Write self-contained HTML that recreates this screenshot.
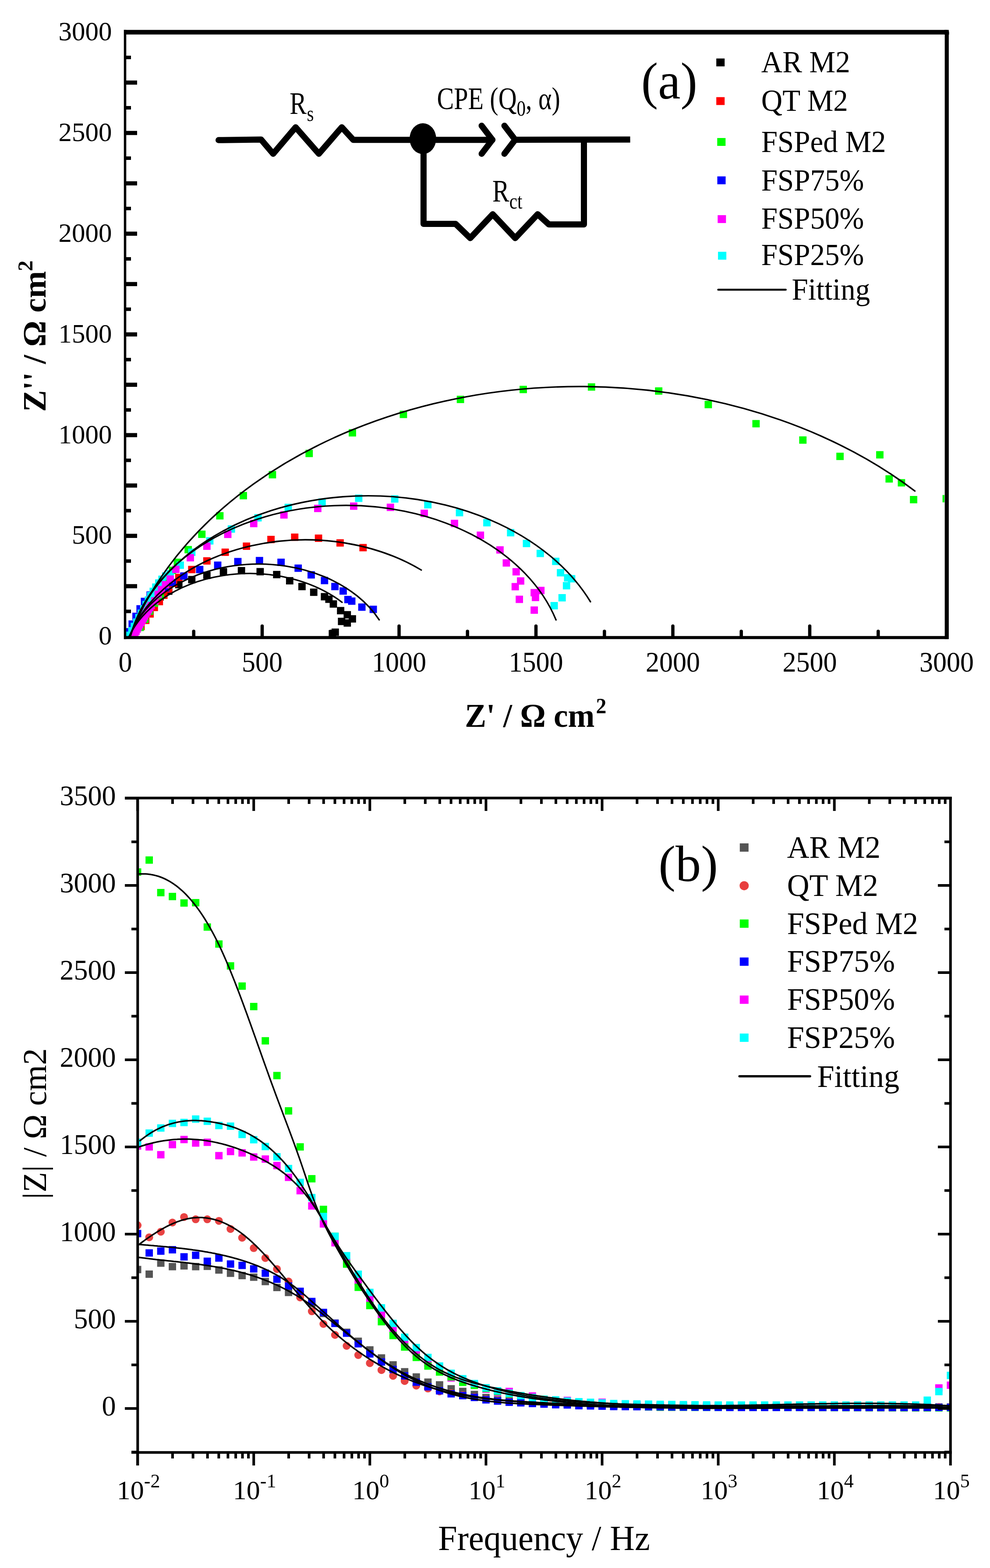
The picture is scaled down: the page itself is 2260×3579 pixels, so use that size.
<!DOCTYPE html>
<html><head><meta charset="utf-8"><style>html,body{margin:0;padding:0;background:#fff;}svg{display:block;}</style></head>
<body><svg width="2260" height="3579" viewBox="0 0 2260 3579" font-family="'Liberation Serif', 'Times New Roman', serif">
<rect width="2260" height="3579" fill="#fff"/>
<defs><clipPath id="clipA"><rect x="288" y="78" width="1868" height="1374"/></clipPath><clipPath id="clipB"><rect x="317" y="1824" width="1850" height="1488"/></clipPath></defs>
<g clip-path="url(#clipA)">
<g fill="#000000"><rect x="291.6" y="1441.6" width="16.8" height="16.8"/><rect x="298.7" y="1429.8" width="16.8" height="16.8"/><rect x="305.7" y="1418.1" width="16.8" height="16.8"/><rect x="313.8" y="1407.0" width="16.8" height="16.8"/><rect x="322.0" y="1396.0" width="16.8" height="16.8"/><rect x="330.3" y="1385.0" width="16.8" height="16.8"/><rect x="338.5" y="1374.1" width="16.8" height="16.8"/><rect x="347.0" y="1363.3" width="16.8" height="16.8"/><rect x="681.0" y="1330.4" width="16.8" height="16.8"/><rect x="707.8" y="1343.4" width="16.8" height="16.8"/><rect x="732.4" y="1353.6" width="16.8" height="16.8"/><rect x="742.5" y="1359.4" width="16.8" height="16.8"/><rect x="752.6" y="1370.2" width="16.8" height="16.8"/><rect x="769.2" y="1385.4" width="16.8" height="16.8"/><rect x="784.4" y="1394.8" width="16.8" height="16.8"/><rect x="796.0" y="1404.2" width="16.8" height="16.8"/><rect x="771.4" y="1410.0" width="16.8" height="16.8"/><rect x="784.4" y="1413.6" width="16.8" height="16.8"/><rect x="756.9" y="1434.6" width="16.8" height="16.8"/><rect x="750.4" y="1438.2" width="16.8" height="16.8"/><rect x="652.9" y="1317.2" width="16.8" height="16.8"/><rect x="623.3" y="1303.1" width="16.8" height="16.8"/><rect x="585.5" y="1296.5" width="16.8" height="16.8"/><rect x="542.8" y="1294.2" width="16.8" height="16.8"/><rect x="501.7" y="1296.5" width="16.8" height="16.8"/><rect x="463.9" y="1304.7" width="16.8" height="16.8"/><rect x="429.4" y="1314.6" width="16.8" height="16.8"/><rect x="399.8" y="1326.1" width="16.8" height="16.8"/><rect x="376.8" y="1340.9" width="16.8" height="16.8"/><rect x="357.1" y="1354.0" width="16.8" height="16.8"/></g>
<g fill="#ff0000"><rect x="313.6" y="1421.6" width="16.8" height="16.8"/><rect x="324.3" y="1407.6" width="16.8" height="16.8"/><rect x="334.2" y="1392.9" width="16.8" height="16.8"/><rect x="343.9" y="1378.1" width="16.8" height="16.8"/><rect x="355.4" y="1364.7" width="16.8" height="16.8"/><rect x="365.7" y="1350.3" width="16.8" height="16.8"/><rect x="376.5" y="1336.3" width="16.8" height="16.8"/><rect x="387.9" y="1322.8" width="16.8" height="16.8"/><rect x="399.8" y="1309.7" width="16.8" height="16.8"/><rect x="429.4" y="1291.6" width="16.8" height="16.8"/><rect x="463.9" y="1271.9" width="16.8" height="16.8"/><rect x="505.7" y="1252.1" width="16.8" height="16.8"/><rect x="554.3" y="1238.3" width="16.8" height="16.8"/><rect x="610.2" y="1223.0" width="16.8" height="16.8"/><rect x="664.4" y="1217.8" width="16.8" height="16.8"/><rect x="718.7" y="1220.1" width="16.8" height="16.8"/><rect x="768.0" y="1230.8" width="16.8" height="16.8"/><rect x="820.4" y="1241.6" width="16.8" height="16.8"/></g>
<g fill="#00ff00"><rect x="311.6" y="1423.6" width="16.8" height="16.8"/><rect x="322.5" y="1405.1" width="16.8" height="16.8"/><rect x="332.9" y="1386.4" width="16.8" height="16.8"/><rect x="344.5" y="1368.3" width="16.8" height="16.8"/><rect x="357.7" y="1351.5" width="16.8" height="16.8"/><rect x="366.1" y="1331.8" width="16.8" height="16.8"/><rect x="375.3" y="1312.4" width="16.8" height="16.8"/><rect x="385.3" y="1293.4" width="16.8" height="16.8"/><rect x="396.5" y="1275.1" width="16.8" height="16.8"/><rect x="421.2" y="1246.2" width="16.8" height="16.8"/><rect x="452.4" y="1211.1" width="16.8" height="16.8"/><rect x="493.5" y="1168.9" width="16.8" height="16.8"/><rect x="547.1" y="1122.9" width="16.8" height="16.8"/><rect x="613.5" y="1075.1" width="16.8" height="16.8"/><rect x="697.4" y="1026.6" width="16.8" height="16.8"/><rect x="796.1" y="979.5" width="16.8" height="16.8"/><rect x="912.5" y="937.5" width="16.8" height="16.8"/><rect x="1042.7" y="903.3" width="16.8" height="16.8"/><rect x="1186.1" y="880.6" width="16.8" height="16.8"/><rect x="1341.9" y="874.9" width="16.8" height="16.8"/><rect x="1495.3" y="884.1" width="16.8" height="16.8"/><rect x="1608.5" y="915.0" width="16.8" height="16.8"/><rect x="1717.5" y="958.7" width="16.8" height="16.8"/><rect x="1824.4" y="996.0" width="16.8" height="16.8"/><rect x="1909.2" y="1033.3" width="16.8" height="16.8"/><rect x="2000.1" y="1029.7" width="16.8" height="16.8"/><rect x="2021.4" y="1084.7" width="16.8" height="16.8"/><rect x="2049.5" y="1093.6" width="16.8" height="16.8"/><rect x="2077.2" y="1132.0" width="16.8" height="16.8"/><rect x="2151.6" y="1129.8" width="16.8" height="16.8"/></g>
<g fill="#0000ff"><rect x="284.6" y="1433.6" width="16.8" height="16.8"/><rect x="293.4" y="1416.1" width="16.8" height="16.8"/><rect x="302.1" y="1398.5" width="16.8" height="16.8"/><rect x="311.4" y="1381.3" width="16.8" height="16.8"/><rect x="321.4" y="1364.4" width="16.8" height="16.8"/><rect x="334.4" y="1349.8" width="16.8" height="16.8"/><rect x="351.5" y="1340.6" width="16.8" height="16.8"/><rect x="369.7" y="1333.5" width="16.8" height="16.8"/><rect x="385.0" y="1321.2" width="16.8" height="16.8"/><rect x="411.3" y="1306.4" width="16.8" height="16.8"/><rect x="447.5" y="1291.6" width="16.8" height="16.8"/><rect x="488.6" y="1281.7" width="16.8" height="16.8"/><rect x="534.6" y="1273.5" width="16.8" height="16.8"/><rect x="583.9" y="1271.2" width="16.8" height="16.8"/><rect x="633.2" y="1275.1" width="16.8" height="16.8"/><rect x="672.3" y="1288.5" width="16.8" height="16.8"/><rect x="702.0" y="1303.7" width="16.8" height="16.8"/><rect x="732.4" y="1316.7" width="16.8" height="16.8"/><rect x="756.2" y="1330.4" width="16.8" height="16.8"/><rect x="775.0" y="1340.6" width="16.8" height="16.8"/><rect x="785.9" y="1360.1" width="16.8" height="16.8"/><rect x="794.6" y="1363.7" width="16.8" height="16.8"/><rect x="817.7" y="1377.4" width="16.8" height="16.8"/><rect x="843.7" y="1382.5" width="16.8" height="16.8"/></g>
<g fill="#00ffff"><rect x="287.6" y="1441.6" width="16.8" height="16.8"/><rect x="292.7" y="1431.4" width="16.8" height="16.8"/><rect x="298.3" y="1421.5" width="16.8" height="16.8"/><rect x="303.7" y="1411.5" width="16.8" height="16.8"/><rect x="308.8" y="1401.3" width="16.8" height="16.8"/><rect x="314.2" y="1391.3" width="16.8" height="16.8"/><rect x="319.7" y="1381.4" width="16.8" height="16.8"/><rect x="325.2" y="1371.4" width="16.8" height="16.8"/><rect x="330.3" y="1361.2" width="16.8" height="16.8"/><rect x="335.7" y="1351.2" width="16.8" height="16.8"/><rect x="341.4" y="1341.4" width="16.8" height="16.8"/><rect x="347.3" y="1331.7" width="16.8" height="16.8"/><rect x="354.0" y="1322.4" width="16.8" height="16.8"/><rect x="361.4" y="1313.8" width="16.8" height="16.8"/><rect x="369.9" y="1306.5" width="16.8" height="16.8"/><rect x="380.1" y="1301.4" width="16.8" height="16.8"/><rect x="403.1" y="1281.7" width="16.8" height="16.8"/><rect x="429.4" y="1252.1" width="16.8" height="16.8"/><rect x="470.5" y="1226.1" width="16.8" height="16.8"/><rect x="519.8" y="1199.1" width="16.8" height="16.8"/><rect x="580.6" y="1173.5" width="16.8" height="16.8"/><rect x="649.6" y="1149.8" width="16.8" height="16.8"/><rect x="726.9" y="1137.5" width="16.8" height="16.8"/><rect x="810.5" y="1128.9" width="16.8" height="16.8"/><rect x="892.7" y="1130.5" width="16.8" height="16.8"/><rect x="968.3" y="1143.6" width="16.8" height="16.8"/><rect x="1040.6" y="1161.7" width="16.8" height="16.8"/><rect x="1103.1" y="1184.7" width="16.8" height="16.8"/><rect x="1157.3" y="1207.5" width="16.8" height="16.8"/><rect x="1193.5" y="1232.1" width="16.8" height="16.8"/><rect x="1224.9" y="1254.8" width="16.8" height="16.8"/><rect x="1260.3" y="1272.9" width="16.8" height="16.8"/><rect x="1271.2" y="1298.9" width="16.8" height="16.8"/><rect x="1287.5" y="1310.5" width="16.8" height="16.8"/><rect x="1296.5" y="1312.6" width="16.8" height="16.8"/><rect x="1284.9" y="1328.5" width="16.8" height="16.8"/><rect x="1274.8" y="1356.0" width="16.8" height="16.8"/><rect x="1256.7" y="1374.1" width="16.8" height="16.8"/></g>
<g fill="#ff00ff"><rect x="296.6" y="1442.6" width="16.8" height="16.8"/><rect x="299.4" y="1437.6" width="16.8" height="16.8"/><rect x="302.1" y="1432.6" width="16.8" height="16.8"/><rect x="304.6" y="1427.5" width="16.8" height="16.8"/><rect x="307.2" y="1422.4" width="16.8" height="16.8"/><rect x="310.0" y="1417.5" width="16.8" height="16.8"/><rect x="312.9" y="1412.5" width="16.8" height="16.8"/><rect x="315.9" y="1407.7" width="16.8" height="16.8"/><rect x="318.7" y="1402.8" width="16.8" height="16.8"/><rect x="321.5" y="1397.8" width="16.8" height="16.8"/><rect x="324.5" y="1392.9" width="16.8" height="16.8"/><rect x="327.5" y="1388.1" width="16.8" height="16.8"/><rect x="330.6" y="1383.3" width="16.8" height="16.8"/><rect x="333.6" y="1378.4" width="16.8" height="16.8"/><rect x="336.6" y="1373.6" width="16.8" height="16.8"/><rect x="345.2" y="1363.1" width="16.8" height="16.8"/><rect x="352.6" y="1348.3" width="16.8" height="16.8"/><rect x="360.0" y="1337.3" width="16.8" height="16.8"/><rect x="369.2" y="1326.2" width="16.8" height="16.8"/><rect x="380.2" y="1313.4" width="16.8" height="16.8"/><rect x="393.1" y="1291.3" width="16.8" height="16.8"/><rect x="426.1" y="1264.6" width="16.8" height="16.8"/><rect x="463.9" y="1238.3" width="16.8" height="16.8"/><rect x="511.6" y="1211.3" width="16.8" height="16.8"/><rect x="570.8" y="1186.6" width="16.8" height="16.8"/><rect x="639.8" y="1166.9" width="16.8" height="16.8"/><rect x="717.0" y="1152.1" width="16.8" height="16.8"/><rect x="799.0" y="1146.9" width="16.8" height="16.8"/><rect x="882.8" y="1149.6" width="16.8" height="16.8"/><rect x="960.1" y="1163.4" width="16.8" height="16.8"/><rect x="1029.1" y="1186.4" width="16.8" height="16.8"/><rect x="1088.3" y="1213.3" width="16.8" height="16.8"/><rect x="1133.0" y="1246.8" width="16.8" height="16.8"/><rect x="1147.5" y="1276.5" width="16.8" height="16.8"/><rect x="1169.9" y="1296.7" width="16.8" height="16.8"/><rect x="1180.1" y="1317.7" width="16.8" height="16.8"/><rect x="1167.8" y="1330.7" width="16.8" height="16.8"/><rect x="1226.3" y="1339.4" width="16.8" height="16.8"/><rect x="1211.2" y="1344.4" width="16.8" height="16.8"/><rect x="1214.0" y="1355.3" width="16.8" height="16.8"/><rect x="1177.2" y="1359.6" width="16.8" height="16.8"/><rect x="1211.2" y="1384.2" width="16.8" height="16.8"/></g>
<g fill="none" stroke="#000" stroke-width="3.4" stroke-linecap="round">
<path d="M294.5,1453.0 A292.3,215.0 0 0 1 780.9,1374.8"/>
<path d="M295.5,1453.0 A305.5,224.7 0 0 1 865.6,1414.8"/>
<path d="M295.4,1453.0 A419.3,308.5 0 0 1 961.7,1301.1"/>
<path d="M297.7,1453.0 A501.1,368.7 0 0 1 1269.3,1415.0"/>
<path d="M297.1,1453.0 A556.2,409.2 0 0 1 1347.9,1373.5"/>
<path d="M296.5,1453.0 A1066.6,784.6 0 0 1 2088.6,1120.8"/>
</g></g>
<g clip-path="url(#clipB)">
<g fill="#555555"><rect x="305.7" y="2889.4" width="16.8" height="16.8"/><rect x="332.2" y="2899.9" width="16.8" height="16.8"/><rect x="358.7" y="2874.7" width="16.8" height="16.8"/><rect x="385.2" y="2882.7" width="16.8" height="16.8"/><rect x="411.7" y="2881.0" width="16.8" height="16.8"/><rect x="438.3" y="2882.7" width="16.8" height="16.8"/><rect x="464.8" y="2882.0" width="16.8" height="16.8"/><rect x="491.3" y="2890.4" width="16.8" height="16.8"/><rect x="517.8" y="2897.8" width="16.8" height="16.8"/><rect x="544.3" y="2903.1" width="16.8" height="16.8"/><rect x="570.8" y="2906.8" width="16.8" height="16.8"/><rect x="597.3" y="2916.7" width="16.8" height="16.8"/><rect x="623.8" y="2930.3" width="16.8" height="16.8"/><rect x="650.3" y="2941.6" width="16.8" height="16.8"/><rect x="676.8" y="2946.6" width="16.8" height="16.8"/><rect x="703.4" y="2966.6" width="16.8" height="16.8"/><rect x="729.9" y="2989.6" width="16.8" height="16.8"/><rect x="756.4" y="3011.6" width="16.8" height="16.8"/><rect x="782.9" y="3032.6" width="16.8" height="16.8"/><rect x="809.4" y="3053.1" width="16.8" height="16.8"/><rect x="835.9" y="3072.8" width="16.8" height="16.8"/><rect x="862.4" y="3091.2" width="16.8" height="16.8"/><rect x="888.9" y="3107.0" width="16.8" height="16.8"/><rect x="915.4" y="3122.7" width="16.8" height="16.8"/><rect x="941.9" y="3134.6" width="16.8" height="16.8"/><rect x="968.5" y="3146.4" width="16.8" height="16.8"/><rect x="995.0" y="3152.6" width="16.8" height="16.8"/><rect x="1021.5" y="3161.6" width="16.8" height="16.8"/><rect x="1048.0" y="3167.6" width="16.8" height="16.8"/><rect x="1074.5" y="3174.6" width="16.8" height="16.8"/><rect x="1101.0" y="3181.6" width="16.8" height="16.8"/><rect x="1127.5" y="3186.6" width="16.8" height="16.8"/><rect x="1154.0" y="3189.6" width="16.8" height="16.8"/><rect x="1180.5" y="3191.6" width="16.8" height="16.8"/><rect x="1207.0" y="3193.1" width="16.8" height="16.8"/><rect x="1233.5" y="3194.6" width="16.8" height="16.8"/><rect x="1260.1" y="3196.1" width="16.8" height="16.8"/><rect x="1286.6" y="3196.6" width="16.8" height="16.8"/><rect x="1313.1" y="3198.1" width="16.8" height="16.8"/><rect x="1339.6" y="3198.6" width="16.8" height="16.8"/><rect x="1366.1" y="3199.2" width="16.8" height="16.8"/><rect x="1392.6" y="3200.0" width="16.8" height="16.8"/><rect x="1419.1" y="3200.3" width="16.8" height="16.8"/><rect x="1445.6" y="3200.6" width="16.8" height="16.8"/><rect x="1472.1" y="3200.9" width="16.8" height="16.8"/><rect x="1498.7" y="3201.2" width="16.8" height="16.8"/><rect x="1525.2" y="3201.4" width="16.8" height="16.8"/><rect x="1551.7" y="3201.7" width="16.8" height="16.8"/><rect x="1578.2" y="3202.0" width="16.8" height="16.8"/><rect x="1604.7" y="3202.3" width="16.8" height="16.8"/><rect x="1631.2" y="3202.6" width="16.8" height="16.8"/><rect x="1657.7" y="3203.1" width="16.8" height="16.8"/><rect x="1684.2" y="3203.1" width="16.8" height="16.8"/><rect x="1710.7" y="3203.1" width="16.8" height="16.8"/><rect x="1737.2" y="3203.1" width="16.8" height="16.8"/><rect x="1763.8" y="3203.1" width="16.8" height="16.8"/><rect x="1790.3" y="3203.1" width="16.8" height="16.8"/><rect x="1816.8" y="3203.1" width="16.8" height="16.8"/><rect x="1843.3" y="3203.1" width="16.8" height="16.8"/><rect x="1869.8" y="3203.1" width="16.8" height="16.8"/><rect x="1896.3" y="3203.1" width="16.8" height="16.8"/><rect x="1922.8" y="3203.1" width="16.8" height="16.8"/><rect x="1949.3" y="3203.1" width="16.8" height="16.8"/><rect x="1975.8" y="3203.1" width="16.8" height="16.8"/><rect x="2002.3" y="3203.1" width="16.8" height="16.8"/><rect x="2028.8" y="3203.1" width="16.8" height="16.8"/><rect x="2055.4" y="3203.1" width="16.8" height="16.8"/><rect x="2081.9" y="3203.1" width="16.8" height="16.8"/><rect x="2108.4" y="3203.1" width="16.8" height="16.8"/><rect x="2134.9" y="3203.1" width="16.8" height="16.8"/><rect x="2161.4" y="3203.1" width="16.8" height="16.8"/></g>
<g fill="#e84242"><circle cx="314.1" cy="2796.8" r="9"/><circle cx="340.6" cy="2824.2" r="9"/><circle cx="367.1" cy="2811.5" r="9"/><circle cx="393.6" cy="2790.5" r="9"/><circle cx="420.1" cy="2777.9" r="9"/><circle cx="446.7" cy="2783.1" r="9"/><circle cx="473.2" cy="2783.1" r="9"/><circle cx="499.7" cy="2786.7" r="9"/><circle cx="526.2" cy="2805.2" r="9"/><circle cx="552.7" cy="2825.2" r="9"/><circle cx="579.2" cy="2848.8" r="9"/><circle cx="605.7" cy="2871.4" r="9"/><circle cx="632.2" cy="2896.7" r="9"/><circle cx="658.7" cy="2925.0" r="9"/><circle cx="685.2" cy="2961.5" r="9"/><circle cx="711.8" cy="2993.1" r="9"/><circle cx="738.3" cy="3022.0" r="9"/><circle cx="764.8" cy="3047.0" r="9"/><circle cx="791.3" cy="3072.0" r="9"/><circle cx="817.8" cy="3093.0" r="9"/><circle cx="844.3" cy="3111.4" r="9"/><circle cx="870.8" cy="3127.2" r="9"/><circle cx="897.3" cy="3140.4" r="9"/><circle cx="923.8" cy="3152.2" r="9"/><circle cx="950.3" cy="3162.7" r="9"/><circle cx="976.9" cy="3169.3" r="9"/><circle cx="1003.4" cy="3175.9" r="9"/><circle cx="1029.9" cy="3180.0" r="9"/><circle cx="1056.4" cy="3184.6" r="9"/><circle cx="1082.9" cy="3188.7" r="9"/><circle cx="1109.4" cy="3194.0" r="9"/><circle cx="1135.9" cy="3197.0" r="9"/><circle cx="1162.4" cy="3199.7" r="9"/><circle cx="1188.9" cy="3201.0" r="9"/><circle cx="1215.4" cy="3202.5" r="9"/><circle cx="1242.0" cy="3203.9" r="9"/><circle cx="1268.5" cy="3205.3" r="9"/><circle cx="1295.0" cy="3205.8" r="9"/><circle cx="1321.5" cy="3207.5" r="9"/><circle cx="1348.0" cy="3208.0" r="9"/><circle cx="1374.5" cy="3208.6" r="9"/><circle cx="1401.0" cy="3209.4" r="9"/><circle cx="1427.5" cy="3209.6" r="9"/><circle cx="1454.0" cy="3209.8" r="9"/><circle cx="1480.5" cy="3210.0" r="9"/><circle cx="1507.1" cy="3210.2" r="9"/><circle cx="1533.6" cy="3210.5" r="9"/><circle cx="1560.1" cy="3210.7" r="9"/><circle cx="1586.6" cy="3210.9" r="9"/><circle cx="1613.1" cy="3211.1" r="9"/><circle cx="1639.6" cy="3211.3" r="9"/><circle cx="1666.1" cy="3211.5" r="9"/><circle cx="1692.6" cy="3211.5" r="9"/><circle cx="1719.1" cy="3211.5" r="9"/><circle cx="1745.6" cy="3211.5" r="9"/><circle cx="1772.2" cy="3211.5" r="9"/><circle cx="1798.7" cy="3211.5" r="9"/><circle cx="1825.2" cy="3211.5" r="9"/><circle cx="1851.7" cy="3211.5" r="9"/><circle cx="1878.2" cy="3211.5" r="9"/><circle cx="1904.7" cy="3211.5" r="9"/><circle cx="1931.2" cy="3211.5" r="9"/><circle cx="1957.7" cy="3211.5" r="9"/><circle cx="1984.2" cy="3211.5" r="9"/><circle cx="2010.7" cy="3211.5" r="9"/><circle cx="2037.2" cy="3211.5" r="9"/><circle cx="2063.8" cy="3211.5" r="9"/><circle cx="2090.3" cy="3211.5" r="9"/><circle cx="2116.8" cy="3211.5" r="9"/><circle cx="2143.3" cy="3211.5" r="9"/><circle cx="2169.8" cy="3211.5" r="9"/></g>
<g fill="#ff00ff"><rect x="305.7" y="2607.3" width="16.8" height="16.8"/><rect x="332.2" y="2609.4" width="16.8" height="16.8"/><rect x="358.7" y="2627.3" width="16.8" height="16.8"/><rect x="385.2" y="2604.2" width="16.8" height="16.8"/><rect x="411.7" y="2592.6" width="16.8" height="16.8"/><rect x="438.3" y="2600.6" width="16.8" height="16.8"/><rect x="464.8" y="2598.9" width="16.8" height="16.8"/><rect x="491.3" y="2629.4" width="16.8" height="16.8"/><rect x="517.8" y="2619.9" width="16.8" height="16.8"/><rect x="544.3" y="2623.1" width="16.8" height="16.8"/><rect x="570.8" y="2632.5" width="16.8" height="16.8"/><rect x="597.3" y="2637.2" width="16.8" height="16.8"/><rect x="623.8" y="2652.0" width="16.8" height="16.8"/><rect x="650.3" y="2678.9" width="16.8" height="16.8"/><rect x="676.8" y="2709.4" width="16.8" height="16.8"/><rect x="703.4" y="2744.1" width="16.8" height="16.8"/><rect x="729.9" y="2785.2" width="16.8" height="16.8"/><rect x="756.4" y="2828.3" width="16.8" height="16.8"/><rect x="782.9" y="2872.5" width="16.8" height="16.8"/><rect x="809.4" y="2916.7" width="16.8" height="16.8"/><rect x="835.9" y="2956.6" width="16.8" height="16.8"/><rect x="862.4" y="2993.6" width="16.8" height="16.8"/><rect x="888.9" y="3026.6" width="16.8" height="16.8"/><rect x="915.4" y="3055.6" width="16.8" height="16.8"/><rect x="941.9" y="3081.6" width="16.8" height="16.8"/><rect x="968.5" y="3102.6" width="16.8" height="16.8"/><rect x="995.0" y="3118.6" width="16.8" height="16.8"/><rect x="1021.5" y="3136.6" width="16.8" height="16.8"/><rect x="1048.0" y="3141.6" width="16.8" height="16.8"/><rect x="1074.5" y="3152.6" width="16.8" height="16.8"/><rect x="1101.0" y="3162.3" width="16.8" height="16.8"/><rect x="1127.5" y="3169.2" width="16.8" height="16.8"/><rect x="1154.0" y="3167.6" width="16.8" height="16.8"/><rect x="1180.5" y="3180.3" width="16.8" height="16.8"/><rect x="1207.0" y="3178.1" width="16.8" height="16.8"/><rect x="1233.5" y="3188.6" width="16.8" height="16.8"/><rect x="1260.1" y="3189.9" width="16.8" height="16.8"/><rect x="1286.6" y="3188.1" width="16.8" height="16.8"/><rect x="1313.1" y="3194.1" width="16.8" height="16.8"/><rect x="1339.6" y="3195.4" width="16.8" height="16.8"/><rect x="1366.1" y="3192.3" width="16.8" height="16.8"/><rect x="1392.6" y="3198.2" width="16.8" height="16.8"/><rect x="1419.1" y="3197.7" width="16.8" height="16.8"/><rect x="1445.6" y="3198.2" width="16.8" height="16.8"/><rect x="1472.1" y="3198.6" width="16.8" height="16.8"/><rect x="1498.7" y="3199.1" width="16.8" height="16.8"/><rect x="1525.2" y="3199.4" width="16.8" height="16.8"/><rect x="1551.7" y="3199.7" width="16.8" height="16.8"/><rect x="1578.2" y="3200.0" width="16.8" height="16.8"/><rect x="1604.7" y="3200.3" width="16.8" height="16.8"/><rect x="1631.2" y="3201.3" width="16.8" height="16.8"/><rect x="1657.7" y="3202.4" width="16.8" height="16.8"/><rect x="1684.2" y="3203.6" width="16.8" height="16.8"/><rect x="1710.7" y="3203.7" width="16.8" height="16.8"/><rect x="1737.2" y="3203.8" width="16.8" height="16.8"/><rect x="1763.8" y="3203.9" width="16.8" height="16.8"/><rect x="1790.3" y="3204.0" width="16.8" height="16.8"/><rect x="1816.8" y="3204.1" width="16.8" height="16.8"/><rect x="1843.3" y="3204.2" width="16.8" height="16.8"/><rect x="1869.8" y="3204.3" width="16.8" height="16.8"/><rect x="1896.3" y="3204.3" width="16.8" height="16.8"/><rect x="1922.8" y="3204.4" width="16.8" height="16.8"/><rect x="1949.3" y="3204.5" width="16.8" height="16.8"/><rect x="1975.8" y="3204.6" width="16.8" height="16.8"/><rect x="2002.3" y="3204.7" width="16.8" height="16.8"/><rect x="2028.8" y="3204.8" width="16.8" height="16.8"/><rect x="2055.4" y="3204.9" width="16.8" height="16.8"/><rect x="2081.9" y="3205.0" width="16.8" height="16.8"/><rect x="2108.4" y="3205.1" width="16.8" height="16.8"/><rect x="2134.9" y="3159.6" width="16.8" height="16.8"/><rect x="2161.4" y="3153.4" width="16.8" height="16.8"/></g>
<g fill="#00ff00"><rect x="305.7" y="1982.0" width="16.8" height="16.8"/><rect x="332.2" y="1954.7" width="16.8" height="16.8"/><rect x="358.7" y="2029.0" width="16.8" height="16.8"/><rect x="385.2" y="2037.9" width="16.8" height="16.8"/><rect x="411.7" y="2052.7" width="16.8" height="16.8"/><rect x="438.3" y="2052.0" width="16.8" height="16.8"/><rect x="464.8" y="2107.6" width="16.8" height="16.8"/><rect x="491.3" y="2146.4" width="16.8" height="16.8"/><rect x="517.8" y="2196.3" width="16.8" height="16.8"/><rect x="544.3" y="2242.4" width="16.8" height="16.8"/><rect x="570.8" y="2289.1" width="16.8" height="16.8"/><rect x="597.3" y="2367.3" width="16.8" height="16.8"/><rect x="623.8" y="2446.6" width="16.8" height="16.8"/><rect x="650.3" y="2527.2" width="16.8" height="16.8"/><rect x="676.8" y="2609.4" width="16.8" height="16.8"/><rect x="703.4" y="2682.1" width="16.8" height="16.8"/><rect x="729.9" y="2752.1" width="16.8" height="16.8"/><rect x="756.4" y="2813.6" width="16.8" height="16.8"/><rect x="782.9" y="2876.9" width="16.8" height="16.8"/><rect x="809.4" y="2929.9" width="16.8" height="16.8"/><rect x="835.9" y="2971.5" width="16.8" height="16.8"/><rect x="862.4" y="3008.4" width="16.8" height="16.8"/><rect x="888.9" y="3039.9" width="16.8" height="16.8"/><rect x="915.4" y="3066.2" width="16.8" height="16.8"/><rect x="941.9" y="3089.9" width="16.8" height="16.8"/><rect x="968.5" y="3109.6" width="16.8" height="16.8"/><rect x="995.0" y="3123.2" width="16.8" height="16.8"/><rect x="1021.5" y="3134.3" width="16.8" height="16.8"/><rect x="1048.0" y="3146.8" width="16.8" height="16.8"/><rect x="1074.5" y="3153.6" width="16.8" height="16.8"/><rect x="1101.0" y="3160.6" width="16.8" height="16.8"/><rect x="1127.5" y="3167.6" width="16.8" height="16.8"/><rect x="1154.0" y="3172.6" width="16.8" height="16.8"/><rect x="1180.5" y="3177.6" width="16.8" height="16.8"/><rect x="1207.0" y="3181.6" width="16.8" height="16.8"/><rect x="1233.5" y="3185.6" width="16.8" height="16.8"/><rect x="1260.1" y="3188.6" width="16.8" height="16.8"/><rect x="1286.6" y="3191.6" width="16.8" height="16.8"/><rect x="1313.1" y="3194.6" width="16.8" height="16.8"/><rect x="1339.6" y="3196.6" width="16.8" height="16.8"/><rect x="1366.1" y="3198.6" width="16.8" height="16.8"/><rect x="1392.6" y="3200.6" width="16.8" height="16.8"/><rect x="1419.1" y="3201.3" width="16.8" height="16.8"/><rect x="1445.6" y="3202.1" width="16.8" height="16.8"/><rect x="1472.1" y="3202.8" width="16.8" height="16.8"/><rect x="1498.7" y="3203.6" width="16.8" height="16.8"/><rect x="1525.2" y="3203.7" width="16.8" height="16.8"/><rect x="1551.7" y="3203.7" width="16.8" height="16.8"/><rect x="1578.2" y="3203.8" width="16.8" height="16.8"/><rect x="1604.7" y="3203.8" width="16.8" height="16.8"/><rect x="1631.2" y="3203.9" width="16.8" height="16.8"/><rect x="1657.7" y="3204.0" width="16.8" height="16.8"/><rect x="1684.2" y="3204.0" width="16.8" height="16.8"/><rect x="1710.7" y="3204.1" width="16.8" height="16.8"/><rect x="1737.2" y="3204.1" width="16.8" height="16.8"/><rect x="1763.8" y="3204.2" width="16.8" height="16.8"/><rect x="1790.3" y="3204.3" width="16.8" height="16.8"/><rect x="1816.8" y="3204.3" width="16.8" height="16.8"/><rect x="1843.3" y="3204.4" width="16.8" height="16.8"/><rect x="1869.8" y="3204.4" width="16.8" height="16.8"/><rect x="1896.3" y="3204.5" width="16.8" height="16.8"/><rect x="1922.8" y="3204.6" width="16.8" height="16.8"/><rect x="1949.3" y="3204.6" width="16.8" height="16.8"/><rect x="1975.8" y="3204.7" width="16.8" height="16.8"/><rect x="2002.3" y="3204.7" width="16.8" height="16.8"/><rect x="2028.8" y="3204.8" width="16.8" height="16.8"/><rect x="2055.4" y="3204.9" width="16.8" height="16.8"/><rect x="2081.9" y="3204.9" width="16.8" height="16.8"/><rect x="2108.4" y="3205.0" width="16.8" height="16.8"/><rect x="2134.9" y="3205.0" width="16.8" height="16.8"/><rect x="2161.4" y="3205.1" width="16.8" height="16.8"/></g>
<g fill="#0000ff"><rect x="305.7" y="2807.3" width="16.8" height="16.8"/><rect x="332.2" y="2851.5" width="16.8" height="16.8"/><rect x="358.7" y="2847.3" width="16.8" height="16.8"/><rect x="385.2" y="2844.2" width="16.8" height="16.8"/><rect x="411.7" y="2860.4" width="16.8" height="16.8"/><rect x="438.3" y="2856.8" width="16.8" height="16.8"/><rect x="464.8" y="2870.5" width="16.8" height="16.8"/><rect x="491.3" y="2863.1" width="16.8" height="16.8"/><rect x="517.8" y="2876.8" width="16.8" height="16.8"/><rect x="544.3" y="2879.9" width="16.8" height="16.8"/><rect x="570.8" y="2887.8" width="16.8" height="16.8"/><rect x="597.3" y="2897.7" width="16.8" height="16.8"/><rect x="623.8" y="2911.4" width="16.8" height="16.8"/><rect x="650.3" y="2927.0" width="16.8" height="16.8"/><rect x="676.8" y="2939.1" width="16.8" height="16.8"/><rect x="703.4" y="2962.3" width="16.8" height="16.8"/><rect x="729.9" y="2987.3" width="16.8" height="16.8"/><rect x="756.4" y="3012.3" width="16.8" height="16.8"/><rect x="782.9" y="3034.6" width="16.8" height="16.8"/><rect x="809.4" y="3058.8" width="16.8" height="16.8"/><rect x="835.9" y="3082.0" width="16.8" height="16.8"/><rect x="862.4" y="3100.4" width="16.8" height="16.8"/><rect x="888.9" y="3117.5" width="16.8" height="16.8"/><rect x="915.4" y="3132.0" width="16.8" height="16.8"/><rect x="941.9" y="3146.4" width="16.8" height="16.8"/><rect x="968.5" y="3156.9" width="16.8" height="16.8"/><rect x="995.0" y="3166.1" width="16.8" height="16.8"/><rect x="1021.5" y="3173.0" width="16.8" height="16.8"/><rect x="1048.0" y="3177.2" width="16.8" height="16.8"/><rect x="1074.5" y="3181.3" width="16.8" height="16.8"/><rect x="1101.0" y="3186.8" width="16.8" height="16.8"/><rect x="1127.5" y="3189.6" width="16.8" height="16.8"/><rect x="1154.0" y="3192.3" width="16.8" height="16.8"/><rect x="1180.5" y="3193.6" width="16.8" height="16.8"/><rect x="1207.0" y="3195.1" width="16.8" height="16.8"/><rect x="1233.5" y="3196.5" width="16.8" height="16.8"/><rect x="1260.1" y="3197.9" width="16.8" height="16.8"/><rect x="1286.6" y="3198.4" width="16.8" height="16.8"/><rect x="1313.1" y="3200.1" width="16.8" height="16.8"/><rect x="1339.6" y="3200.6" width="16.8" height="16.8"/><rect x="1366.1" y="3201.2" width="16.8" height="16.8"/><rect x="1392.6" y="3202.0" width="16.8" height="16.8"/><rect x="1419.1" y="3202.2" width="16.8" height="16.8"/><rect x="1445.6" y="3202.4" width="16.8" height="16.8"/><rect x="1472.1" y="3202.6" width="16.8" height="16.8"/><rect x="1498.7" y="3202.8" width="16.8" height="16.8"/><rect x="1525.2" y="3203.1" width="16.8" height="16.8"/><rect x="1551.7" y="3203.3" width="16.8" height="16.8"/><rect x="1578.2" y="3203.5" width="16.8" height="16.8"/><rect x="1604.7" y="3203.7" width="16.8" height="16.8"/><rect x="1631.2" y="3203.9" width="16.8" height="16.8"/><rect x="1657.7" y="3204.1" width="16.8" height="16.8"/><rect x="1684.2" y="3204.1" width="16.8" height="16.8"/><rect x="1710.7" y="3204.1" width="16.8" height="16.8"/><rect x="1737.2" y="3204.1" width="16.8" height="16.8"/><rect x="1763.8" y="3204.1" width="16.8" height="16.8"/><rect x="1790.3" y="3204.1" width="16.8" height="16.8"/><rect x="1816.8" y="3204.1" width="16.8" height="16.8"/><rect x="1843.3" y="3204.1" width="16.8" height="16.8"/><rect x="1869.8" y="3204.1" width="16.8" height="16.8"/><rect x="1896.3" y="3204.1" width="16.8" height="16.8"/><rect x="1922.8" y="3204.1" width="16.8" height="16.8"/><rect x="1949.3" y="3204.1" width="16.8" height="16.8"/><rect x="1975.8" y="3204.1" width="16.8" height="16.8"/><rect x="2002.3" y="3204.1" width="16.8" height="16.8"/><rect x="2028.8" y="3204.1" width="16.8" height="16.8"/><rect x="2055.4" y="3204.1" width="16.8" height="16.8"/><rect x="2081.9" y="3204.1" width="16.8" height="16.8"/><rect x="2108.4" y="3204.1" width="16.8" height="16.8"/><rect x="2134.9" y="3204.1" width="16.8" height="16.8"/><rect x="2161.4" y="3204.1" width="16.8" height="16.8"/></g>
<g fill="#00ffff"><rect x="305.7" y="2598.9" width="16.8" height="16.8"/><rect x="332.2" y="2577.9" width="16.8" height="16.8"/><rect x="358.7" y="2566.3" width="16.8" height="16.8"/><rect x="385.2" y="2555.8" width="16.8" height="16.8"/><rect x="411.7" y="2553.7" width="16.8" height="16.8"/><rect x="438.3" y="2545.9" width="16.8" height="16.8"/><rect x="464.8" y="2550.9" width="16.8" height="16.8"/><rect x="491.3" y="2560.6" width="16.8" height="16.8"/><rect x="517.8" y="2562.1" width="16.8" height="16.8"/><rect x="544.3" y="2581.0" width="16.8" height="16.8"/><rect x="570.8" y="2593.0" width="16.8" height="16.8"/><rect x="597.3" y="2608.6" width="16.8" height="16.8"/><rect x="623.8" y="2632.0" width="16.8" height="16.8"/><rect x="650.3" y="2658.8" width="16.8" height="16.8"/><rect x="676.8" y="2690.5" width="16.8" height="16.8"/><rect x="703.4" y="2725.2" width="16.8" height="16.8"/><rect x="729.9" y="2768.3" width="16.8" height="16.8"/><rect x="756.4" y="2813.6" width="16.8" height="16.8"/><rect x="782.9" y="2857.8" width="16.8" height="16.8"/><rect x="809.4" y="2900.1" width="16.8" height="16.8"/><rect x="835.9" y="2941.6" width="16.8" height="16.8"/><rect x="862.4" y="2976.8" width="16.8" height="16.8"/><rect x="888.9" y="3012.3" width="16.8" height="16.8"/><rect x="915.4" y="3043.9" width="16.8" height="16.8"/><rect x="941.9" y="3067.5" width="16.8" height="16.8"/><rect x="968.5" y="3089.9" width="16.8" height="16.8"/><rect x="995.0" y="3109.6" width="16.8" height="16.8"/><rect x="1021.5" y="3126.2" width="16.8" height="16.8"/><rect x="1048.0" y="3138.6" width="16.8" height="16.8"/><rect x="1074.5" y="3149.6" width="16.8" height="16.8"/><rect x="1101.0" y="3159.3" width="16.8" height="16.8"/><rect x="1127.5" y="3166.2" width="16.8" height="16.8"/><rect x="1154.0" y="3171.6" width="16.8" height="16.8"/><rect x="1180.5" y="3177.3" width="16.8" height="16.8"/><rect x="1207.0" y="3181.6" width="16.8" height="16.8"/><rect x="1233.5" y="3185.6" width="16.8" height="16.8"/><rect x="1260.1" y="3186.9" width="16.8" height="16.8"/><rect x="1286.6" y="3189.6" width="16.8" height="16.8"/><rect x="1313.1" y="3191.1" width="16.8" height="16.8"/><rect x="1339.6" y="3192.4" width="16.8" height="16.8"/><rect x="1366.1" y="3193.8" width="16.8" height="16.8"/><rect x="1392.6" y="3195.2" width="16.8" height="16.8"/><rect x="1419.1" y="3195.7" width="16.8" height="16.8"/><rect x="1445.6" y="3196.2" width="16.8" height="16.8"/><rect x="1472.1" y="3196.6" width="16.8" height="16.8"/><rect x="1498.7" y="3197.1" width="16.8" height="16.8"/><rect x="1525.2" y="3197.4" width="16.8" height="16.8"/><rect x="1551.7" y="3197.7" width="16.8" height="16.8"/><rect x="1578.2" y="3198.0" width="16.8" height="16.8"/><rect x="1604.7" y="3198.3" width="16.8" height="16.8"/><rect x="1631.2" y="3198.6" width="16.8" height="16.8"/><rect x="1657.7" y="3198.6" width="16.8" height="16.8"/><rect x="1684.2" y="3198.6" width="16.8" height="16.8"/><rect x="1710.7" y="3198.6" width="16.8" height="16.8"/><rect x="1737.2" y="3198.6" width="16.8" height="16.8"/><rect x="1763.8" y="3198.6" width="16.8" height="16.8"/><rect x="1790.3" y="3198.6" width="16.8" height="16.8"/><rect x="1816.8" y="3198.6" width="16.8" height="16.8"/><rect x="1843.3" y="3198.6" width="16.8" height="16.8"/><rect x="1869.8" y="3198.6" width="16.8" height="16.8"/><rect x="1896.3" y="3198.6" width="16.8" height="16.8"/><rect x="1922.8" y="3198.6" width="16.8" height="16.8"/><rect x="1949.3" y="3198.6" width="16.8" height="16.8"/><rect x="1975.8" y="3198.6" width="16.8" height="16.8"/><rect x="2002.3" y="3198.6" width="16.8" height="16.8"/><rect x="2028.8" y="3198.6" width="16.8" height="16.8"/><rect x="2055.4" y="3198.6" width="16.8" height="16.8"/><rect x="2081.9" y="3198.6" width="16.8" height="16.8"/><rect x="2108.4" y="3187.6" width="16.8" height="16.8"/><rect x="2134.9" y="3167.9" width="16.8" height="16.8"/><rect x="2161.4" y="3131.0" width="16.8" height="16.8"/></g>
<g fill="none" stroke="#000" stroke-width="3.5" stroke-linecap="round" stroke-linejoin="round">
<path d="M316.0,1995.1 L320.0,1994.8 L324.0,1994.7 L328.0,1994.7 L332.0,1994.8 L336.0,1995.1 L340.0,1995.5 L344.0,1996.1 L348.0,1996.8 L352.0,1997.6 L356.0,1998.6 L360.0,1999.7 L364.0,2001.0 L368.0,2002.5 L372.0,2004.1 L376.0,2005.9 L380.0,2007.9 L384.0,2010.0 L388.0,2012.3 L392.0,2014.7 L396.0,2017.4 L400.0,2020.2 L404.0,2023.2 L408.0,2026.4 L412.0,2029.8 L416.0,2033.3 L420.0,2037.1 L424.0,2041.0 L428.0,2045.2 L432.0,2049.6 L436.0,2054.1 L440.0,2058.9 L444.0,2063.9 L448.0,2069.1 L452.0,2074.5 L456.0,2080.1 L460.0,2085.9 L464.0,2092.0 L468.0,2098.3 L472.0,2104.8 L476.0,2111.6 L480.0,2118.6 L484.0,2125.8 L488.0,2133.3 L492.0,2141.0 L496.0,2148.9 L500.0,2157.1 L504.0,2165.6 L508.0,2174.3 L512.0,2183.2 L516.0,2192.4 L520.0,2201.8 L524.0,2211.3 L528.0,2221.1 L532.0,2231.1 L536.0,2241.2 L540.0,2251.5 L544.0,2261.9 L548.0,2272.4 L552.0,2283.1 L556.0,2293.9 L560.0,2304.8 L564.0,2315.7 L568.0,2326.8 L572.0,2337.9 L576.0,2349.1 L580.0,2360.3 L584.0,2371.5 L588.0,2382.8 L592.0,2394.1 L596.0,2405.4 L600.0,2416.6 L604.0,2427.8 L608.0,2439.0 L612.0,2450.2 L616.0,2461.3 L620.0,2472.3 L624.0,2483.2 L628.0,2494.1 L632.0,2504.8 L636.0,2515.5 L640.0,2526.1 L644.0,2536.7 L648.0,2547.3 L652.0,2557.9 L656.0,2568.5 L660.0,2579.2 L664.0,2589.9 L668.0,2600.7 L672.0,2611.6 L676.0,2622.7 L680.0,2633.9 L684.0,2645.2 L688.0,2656.8 L692.0,2668.5 L696.0,2680.4 L700.0,2692.4 L704.0,2704.2 L708.0,2715.9 L712.0,2727.2 L716.0,2738.0 L720.0,2748.4 L724.0,2758.3 L728.0,2767.8 L732.0,2776.9 L736.0,2785.7 L740.0,2794.2 L744.0,2802.3 L748.0,2810.3 L752.0,2818.0 L756.0,2825.5 L760.0,2832.8 L764.0,2840.0 L768.0,2847.1 L772.0,2854.2 L776.0,2861.2 L780.0,2868.1 L784.0,2875.0 L788.0,2881.8 L792.0,2888.5 L796.0,2895.2 L800.0,2901.9 L804.0,2908.4 L808.0,2915.0 L812.0,2921.4 L816.0,2927.8 L820.0,2934.2 L824.0,2940.5 L828.0,2946.7 L832.0,2952.8 L836.0,2958.9 L840.0,2964.9 L844.0,2970.9 L848.0,2976.7 L852.0,2982.5 L856.0,2988.2 L860.0,2993.8 L864.0,2999.4 L868.0,3004.9 L872.0,3010.2 L876.0,3015.5 L880.0,3020.7 L884.0,3025.9 L888.0,3030.9 L892.0,3035.8 L896.0,3040.7 L900.0,3045.4 L904.0,3050.0 L908.0,3054.6 L912.0,3059.0 L916.0,3063.4 L920.0,3067.6 L924.0,3071.7 L928.0,3075.7 L932.0,3079.6 L936.0,3083.4 L940.0,3087.1 L944.0,3090.7 L948.0,3094.1 L952.0,3097.4 L956.0,3100.7 L960.0,3103.8 L964.0,3106.8 L968.0,3109.8 L972.0,3112.6 L976.0,3115.3 L980.0,3118.0 L984.0,3120.5 L988.0,3123.0 L992.0,3125.4 L996.0,3127.7 L1000.0,3129.9 L1004.0,3132.1 L1008.0,3134.2 L1012.0,3136.2 L1016.0,3138.1 L1020.0,3140.0 L1024.0,3141.8 L1028.0,3143.6 L1032.0,3145.3 L1036.0,3146.9 L1040.0,3148.5 L1044.0,3150.1 L1048.0,3151.6 L1052.0,3153.0 L1056.0,3154.5 L1060.0,3155.8 L1064.0,3157.2 L1068.0,3158.5 L1072.0,3159.8 L1076.0,3161.0 L1080.0,3162.2 L1084.0,3163.4 L1088.0,3164.6 L1092.0,3165.7 L1096.0,3166.9 L1100.0,3168.0 L1104.0,3169.1 L1108.0,3170.1 L1112.0,3171.2 L1116.0,3172.2 L1120.0,3173.2 L1124.0,3174.2 L1128.0,3175.2 L1132.0,3176.1 L1136.0,3177.0 L1140.0,3177.9 L1144.0,3178.8 L1148.0,3179.7 L1152.0,3180.5 L1156.0,3181.4 L1160.0,3182.2 L1164.0,3183.0 L1168.0,3183.8 L1172.0,3184.5 L1176.0,3185.3 L1180.0,3186.0 L1184.0,3186.7 L1188.0,3187.4 L1192.0,3188.1 L1196.0,3188.8 L1200.0,3189.4 L1204.0,3190.0 L1208.0,3190.7 L1212.0,3191.3 L1216.0,3191.9 L1220.0,3192.4 L1224.0,3193.0 L1228.0,3193.6 L1232.0,3194.1 L1236.0,3194.6 L1240.0,3195.1 L1244.0,3195.7 L1248.0,3196.1 L1252.0,3196.6 L1256.0,3197.1 L1260.0,3197.6 L1264.0,3198.0 L1268.0,3198.4 L1272.0,3198.9 L1276.0,3199.3 L1280.0,3199.7 L1284.0,3200.1 L1288.0,3200.5 L1292.0,3200.9 L1296.0,3201.2 L1300.0,3201.6 L1304.0,3201.9 L1308.0,3202.3 L1312.0,3202.6 L1316.0,3203.0 L1320.0,3203.3 L1324.0,3203.6 L1328.0,3203.9 L1332.0,3204.2 L1336.0,3204.5 L1340.0,3204.8 L1344.0,3205.1 L1348.0,3205.4 L1352.0,3205.7 L1356.0,3205.9 L1360.0,3206.2 L1364.0,3206.5 L1368.0,3206.7 L1372.0,3207.0 L1376.0,3207.2 L1380.0,3207.5 L1384.0,3207.7 L1388.0,3207.9 L1392.0,3208.2 L1396.0,3208.4 L1400.0,3208.6 L1404.0,3208.8 L1408.0,3209.0 L1412.0,3209.2 L1416.0,3209.4 L1420.0,3209.6 L1424.0,3209.8 L1428.0,3209.9 L1432.0,3210.1 L1436.0,3210.3 L1440.0,3210.5 L1444.0,3210.6 L1448.0,3210.8 L1452.0,3210.9 L1456.0,3211.1 L1460.0,3211.2 L1464.0,3211.4 L1468.0,3211.5 L1472.0,3211.6 L1476.0,3211.8 L1480.0,3211.9 L1484.0,3212.0 L1488.0,3212.1 L1492.0,3212.2 L1496.0,3212.3 L1500.0,3212.4 L1504.0,3212.5 L1508.0,3212.6 L1512.0,3212.7 L1516.0,3212.8 L1520.0,3212.9 L1524.0,3213.0 L1528.0,3213.0 L1532.0,3213.1 L1536.0,3213.2 L1540.0,3213.3 L1544.0,3213.3 L1548.0,3213.4 L1552.0,3213.4 L1556.0,3213.5 L1560.0,3213.5 L1564.0,3213.6 L1568.0,3213.6 L1572.0,3213.7 L1576.0,3213.7 L1580.0,3213.8 L1584.0,3213.8 L1588.0,3213.8 L1592.0,3213.8 L1596.0,3213.9 L1600.0,3213.9 L1604.0,3213.9 L1608.0,3213.9 L1612.0,3213.9 L1616.0,3214.0 L1620.0,3214.0 L1624.0,3214.0 L1628.0,3214.0 L1632.0,3214.0 L1636.0,3214.0 L1640.0,3214.0 L1644.0,3214.0 L1648.0,3214.0 L1652.0,3214.0 L1656.0,3213.9 L1660.0,3213.9 L1664.0,3213.9 L1668.0,3213.9 L1672.0,3213.9 L1676.0,3213.9 L1680.0,3213.9 L1684.0,3213.8 L1688.0,3213.8 L1692.0,3213.8 L1696.0,3213.8 L1700.0,3213.7 L1704.0,3213.7 L1708.0,3213.7 L1712.0,3213.6 L1716.0,3213.6 L1720.0,3213.6 L1724.0,3213.5 L1728.0,3213.5 L1732.0,3213.5 L1736.0,3213.4 L1740.0,3213.4 L1744.0,3213.3 L1748.0,3213.3 L1752.0,3213.2 L1756.0,3213.2 L1760.0,3213.2 L1764.0,3213.1 L1768.0,3213.1 L1772.0,3213.0 L1776.0,3213.0 L1780.0,3212.9 L1784.0,3212.9 L1788.0,3212.8 L1792.0,3212.8 L1796.0,3212.7 L1800.0,3212.7 L1804.0,3212.6 L1808.0,3212.6 L1812.0,3212.5 L1816.0,3212.5 L1820.0,3212.5 L1824.0,3212.4 L1828.0,3212.4 L1832.0,3212.3 L1836.0,3212.3 L1840.0,3212.2 L1844.0,3212.2 L1848.0,3212.1 L1852.0,3212.1 L1856.0,3212.0 L1860.0,3212.0 L1864.0,3211.9 L1868.0,3211.9 L1872.0,3211.8 L1876.0,3211.8 L1880.0,3211.8 L1884.0,3211.7 L1888.0,3211.7 L1892.0,3211.6 L1896.0,3211.6 L1900.0,3211.6 L1904.0,3211.5 L1908.0,3211.5 L1912.0,3211.5 L1916.0,3211.4 L1920.0,3211.4 L1924.0,3211.4 L1928.0,3211.3 L1932.0,3211.3 L1936.0,3211.3 L1940.0,3211.2 L1944.0,3211.2 L1948.0,3211.2 L1952.0,3211.2 L1956.0,3211.2 L1960.0,3211.1 L1964.0,3211.1 L1968.0,3211.1 L1972.0,3211.1 L1976.0,3211.1 L1980.0,3211.1 L1984.0,3211.1 L1988.0,3211.1 L1992.0,3211.1 L1996.0,3211.1 L2000.0,3211.1 L2004.0,3211.1 L2008.0,3211.1 L2012.0,3211.1 L2016.0,3211.1 L2020.0,3211.1 L2024.0,3211.1 L2028.0,3211.2 L2032.0,3211.2 L2036.0,3211.2 L2040.0,3211.2 L2044.0,3211.3 L2048.0,3211.3 L2052.0,3211.3 L2056.0,3211.4 L2060.0,3211.4 L2064.0,3211.5 L2068.0,3211.5 L2072.0,3211.6 L2076.0,3211.6 L2080.0,3211.7 L2084.0,3211.7 L2088.0,3211.8 L2092.0,3211.9 L2096.0,3211.9 L2100.0,3212.0 L2104.0,3212.1 L2108.0,3212.2 L2112.0,3212.2 L2116.0,3212.3 L2120.0,3212.4 L2124.0,3212.5 L2128.0,3212.6 L2132.0,3212.7 L2136.0,3212.8 L2140.0,3212.9 L2144.0,3213.0 L2148.0,3213.2 L2152.0,3213.3 L2156.0,3213.4 L2160.0,3213.5 L2164.0,3213.7 L2168.0,3213.8 L2169.0,3213.9"/>
<path d="M319.7,2603.7 L323.7,2600.4 L327.7,2597.4 L331.7,2594.4 L335.7,2591.6 L339.7,2588.9 L343.7,2586.3 L347.7,2583.8 L351.7,2581.5 L355.7,2579.3 L359.7,2577.2 L363.7,2575.3 L367.7,2573.4 L371.7,2571.7 L375.7,2570.1 L379.7,2568.6 L383.7,2567.2 L387.7,2565.9 L391.7,2564.7 L395.7,2563.6 L399.7,2562.6 L403.7,2561.7 L407.7,2560.9 L411.7,2560.2 L415.7,2559.6 L419.7,2559.0 L423.7,2558.6 L427.7,2558.2 L431.7,2557.9 L435.7,2557.7 L439.7,2557.6 L443.7,2557.6 L447.7,2557.6 L451.7,2557.7 L455.7,2557.9 L459.7,2558.1 L463.7,2558.4 L467.7,2558.8 L471.7,2559.3 L475.7,2559.7 L479.7,2560.3 L483.7,2560.9 L487.7,2561.6 L491.7,2562.3 L495.7,2563.0 L499.7,2563.8 L503.7,2564.7 L507.7,2565.6 L511.7,2566.6 L515.7,2567.7 L519.7,2568.8 L523.7,2570.0 L527.7,2571.2 L531.7,2572.5 L535.7,2573.9 L539.7,2575.4 L543.7,2577.0 L547.7,2578.6 L551.7,2580.3 L555.7,2582.1 L559.7,2584.0 L563.7,2586.0 L567.7,2588.0 L571.7,2590.2 L575.7,2592.5 L579.7,2594.8 L583.7,2597.3 L587.7,2599.9 L591.7,2602.5 L595.7,2605.3 L599.7,2608.2 L603.7,2611.2 L607.7,2614.3 L611.7,2617.5 L615.7,2620.9 L619.7,2624.4 L623.7,2628.0 L627.7,2631.7 L631.7,2635.6 L635.7,2639.5 L639.7,2643.7 L643.7,2647.9 L647.7,2652.3 L651.7,2656.8 L655.7,2661.5 L659.7,2666.3 L663.7,2671.3 L667.7,2676.4 L671.7,2681.7 L675.7,2687.1 L679.7,2692.7 L683.7,2698.4 L687.7,2704.3 L691.7,2710.4 L695.7,2716.6 L699.7,2722.9 L703.7,2729.4 L707.7,2735.9 L711.7,2742.6 L715.7,2749.3 L719.7,2756.1 L723.7,2762.9 L727.7,2769.8 L731.7,2776.6 L735.7,2783.5 L739.7,2790.4 L743.7,2797.2 L747.7,2804.1 L751.7,2810.8 L755.7,2817.5 L759.7,2824.1 L763.7,2830.6 L767.7,2837.0 L771.7,2843.3 L775.7,2849.4 L779.7,2855.5 L783.7,2861.5 L787.7,2867.4 L791.7,2873.2 L795.7,2878.9 L799.7,2884.6 L803.7,2890.2 L807.7,2895.8 L811.7,2901.4 L815.7,2906.9 L819.7,2912.4 L823.7,2917.9 L827.7,2923.3 L831.7,2928.8 L835.7,2934.3 L839.7,2939.7 L843.7,2945.1 L847.7,2950.5 L851.7,2955.9 L855.7,2961.2 L859.7,2966.5 L863.7,2971.8 L867.7,2977.1 L871.7,2982.3 L875.7,2987.4 L879.7,2992.6 L883.7,2997.6 L887.7,3002.7 L891.7,3007.6 L895.7,3012.5 L899.7,3017.4 L903.7,3022.2 L907.7,3026.9 L911.7,3031.6 L915.7,3036.2 L919.7,3040.7 L923.7,3045.2 L927.7,3049.6 L931.7,3053.8 L935.7,3058.1 L939.7,3062.2 L943.7,3066.2 L947.7,3070.2 L951.7,3074.0 L955.7,3077.8 L959.7,3081.4 L963.7,3085.0 L967.7,3088.4 L971.7,3091.8 L975.7,3095.0 L979.7,3098.2 L983.7,3101.3 L987.7,3104.3 L991.7,3107.2 L995.7,3110.0 L999.7,3112.8 L1003.7,3115.5 L1007.7,3118.0 L1011.7,3120.6 L1015.7,3123.0 L1019.7,3125.4 L1023.7,3127.7 L1027.7,3129.9 L1031.7,3132.1 L1035.7,3134.2 L1039.7,3136.2 L1043.7,3138.2 L1047.7,3140.1 L1051.7,3142.0 L1055.7,3143.8 L1059.7,3145.5 L1063.7,3147.2 L1067.7,3148.9 L1071.7,3150.5 L1075.7,3152.0 L1079.7,3153.6 L1083.7,3155.0 L1087.7,3156.5 L1091.7,3157.9 L1095.7,3159.3 L1099.7,3160.6 L1103.7,3161.9 L1107.7,3163.2 L1111.7,3164.4 L1115.7,3165.6 L1119.7,3166.8 L1123.7,3168.0 L1127.7,3169.1 L1131.7,3170.2 L1135.7,3171.3 L1139.7,3172.4 L1143.7,3173.4 L1147.7,3174.4 L1151.7,3175.4 L1155.7,3176.4 L1159.7,3177.3 L1163.7,3178.3 L1167.7,3179.2 L1171.7,3180.1 L1175.7,3180.9 L1179.7,3181.8 L1183.7,3182.6 L1187.7,3183.4 L1191.7,3184.1 L1195.7,3184.9 L1199.7,3185.6 L1203.7,3186.3 L1207.7,3187.0 L1211.7,3187.7 L1215.7,3188.4 L1219.7,3189.0 L1223.7,3189.6 L1227.7,3190.2 L1231.7,3190.8 L1235.7,3191.4 L1239.7,3192.0 L1243.7,3192.5 L1247.7,3193.0 L1251.7,3193.5 L1255.7,3194.0 L1259.7,3194.5 L1263.7,3195.0 L1267.7,3195.4 L1271.7,3195.8 L1275.7,3196.2 L1279.7,3196.7 L1283.7,3197.0 L1287.7,3197.4 L1291.7,3197.8 L1295.7,3198.1 L1299.7,3198.5 L1303.7,3198.8 L1307.7,3199.1 L1311.7,3199.4 L1315.7,3199.7 L1319.7,3200.0 L1323.7,3200.3 L1327.7,3200.6 L1331.7,3200.8 L1335.7,3201.1 L1339.7,3201.3 L1343.7,3201.5 L1347.7,3201.8 L1351.7,3202.0 L1355.7,3202.2 L1359.7,3202.4 L1363.7,3202.6 L1367.7,3202.8 L1371.7,3202.9 L1375.7,3203.1 L1379.7,3203.3 L1383.7,3203.4 L1387.7,3203.6 L1391.7,3203.7 L1395.7,3203.9 L1399.7,3204.0 L1403.7,3204.2 L1407.7,3204.3 L1411.7,3204.4 L1415.7,3204.6 L1419.7,3204.7 L1423.7,3204.8 L1427.7,3204.9 L1431.7,3205.1 L1435.7,3205.2 L1439.7,3205.3 L1443.7,3205.4 L1447.7,3205.5 L1451.7,3205.6 L1455.7,3205.7 L1459.7,3205.8 L1463.7,3205.9 L1467.7,3206.0 L1471.7,3206.1 L1475.7,3206.2 L1479.7,3206.3 L1483.7,3206.4 L1487.7,3206.5 L1491.7,3206.6 L1495.7,3206.7 L1499.7,3206.8 L1503.7,3206.9 L1507.7,3206.9 L1511.7,3207.0 L1515.7,3207.1 L1519.7,3207.2 L1523.7,3207.2 L1527.7,3207.3 L1531.7,3207.4 L1535.7,3207.5 L1539.7,3207.5 L1543.7,3207.6 L1547.7,3207.6 L1551.7,3207.7 L1555.7,3207.8 L1559.7,3207.8 L1563.7,3207.9 L1567.7,3207.9 L1571.7,3208.0 L1575.7,3208.0 L1579.7,3208.1 L1583.7,3208.1 L1587.7,3208.2 L1591.7,3208.2 L1595.7,3208.3 L1599.7,3208.3 L1603.7,3208.4 L1607.7,3208.4 L1611.7,3208.4 L1615.7,3208.5 L1619.7,3208.5 L1623.7,3208.6 L1627.7,3208.6 L1631.7,3208.6 L1635.7,3208.6 L1639.7,3208.7 L1643.7,3208.7 L1647.7,3208.7 L1651.7,3208.8 L1655.7,3208.8 L1659.7,3208.8 L1663.7,3208.8 L1667.7,3208.9 L1671.7,3208.9 L1675.7,3208.9 L1679.7,3208.9 L1683.7,3208.9 L1687.7,3208.9 L1691.7,3209.0 L1695.7,3209.0 L1699.7,3209.0 L1703.7,3209.0 L1707.7,3209.0 L1711.7,3209.0 L1715.7,3209.0 L1719.7,3209.0 L1723.7,3209.0 L1727.7,3209.0 L1731.7,3209.1 L1735.7,3209.1 L1739.7,3209.1 L1743.7,3209.1 L1747.7,3209.1 L1751.7,3209.1 L1755.7,3209.1 L1759.7,3209.1 L1763.7,3209.1 L1767.7,3209.1 L1771.7,3209.1 L1775.7,3209.1 L1779.7,3209.1 L1783.7,3209.1 L1787.7,3209.1 L1791.7,3209.1 L1795.7,3209.1 L1799.7,3209.1 L1803.7,3209.0 L1807.7,3209.0 L1811.7,3209.0 L1815.7,3209.0 L1819.7,3209.0 L1823.7,3209.0 L1827.7,3209.0 L1831.7,3209.0 L1835.7,3209.0 L1839.7,3209.0 L1843.7,3209.0 L1847.7,3209.0 L1851.7,3209.0 L1855.7,3208.9 L1859.7,3208.9 L1863.7,3208.9 L1867.7,3208.9 L1871.7,3208.9 L1875.7,3208.9 L1879.7,3208.9 L1883.7,3208.9 L1887.7,3208.9 L1891.7,3208.9 L1895.7,3208.8 L1899.7,3208.8 L1903.7,3208.8 L1907.7,3208.8 L1911.7,3208.8 L1915.7,3208.8 L1919.7,3208.8 L1923.7,3208.8 L1927.7,3208.8 L1931.7,3208.8 L1935.7,3208.7 L1939.7,3208.7 L1943.7,3208.7 L1947.7,3208.7 L1951.7,3208.7 L1955.7,3208.7 L1959.7,3208.7 L1963.7,3208.7 L1967.7,3208.7 L1971.7,3208.7 L1975.7,3208.7 L1979.7,3208.7 L1983.7,3208.6 L1987.7,3208.6 L1991.7,3208.6 L1995.7,3208.6 L1999.7,3208.6 L2003.7,3208.6 L2007.7,3208.6 L2011.7,3208.6 L2015.7,3208.6 L2019.7,3208.6 L2023.7,3208.6 L2027.7,3208.6 L2031.7,3208.6 L2035.7,3208.6 L2039.7,3208.6 L2043.7,3208.6 L2047.7,3208.6 L2051.7,3208.6 L2055.7,3208.6 L2059.7,3208.6 L2063.7,3208.6 L2067.7,3208.6 L2071.7,3208.7 L2075.7,3208.7 L2079.7,3208.7 L2083.7,3208.7 L2087.7,3208.7 L2091.7,3208.7 L2095.7,3208.7 L2099.7,3208.7 L2103.7,3208.7 L2107.7,3208.8 L2111.7,3208.8 L2115.7,3208.8 L2119.7,3208.8 L2123.7,3208.8 L2127.7,3208.9 L2131.7,3208.9 L2135.7,3208.9 L2139.7,3208.9 L2143.7,3209.0 L2147.7,3209.0 L2151.7,3209.0 L2155.7,3209.0 L2159.7,3209.1 L2163.7,3209.1 L2167.7,3209.1 L2169.0,3209.1"/>
<path d="M315.8,2618.4 L319.8,2617.1 L323.8,2615.7 L327.8,2614.5 L331.8,2613.3 L335.8,2612.1 L339.8,2611.0 L343.8,2610.0 L347.8,2609.0 L351.8,2608.0 L355.8,2607.1 L359.8,2606.3 L363.8,2605.5 L367.8,2604.8 L371.8,2604.1 L375.8,2603.5 L379.8,2602.9 L383.8,2602.4 L387.8,2601.9 L391.8,2601.5 L395.8,2601.1 L399.8,2600.8 L403.8,2600.6 L407.8,2600.3 L411.8,2600.2 L415.8,2600.1 L419.8,2600.0 L423.8,2600.0 L427.8,2600.0 L431.8,2600.1 L435.8,2600.3 L439.8,2600.5 L443.8,2600.7 L447.8,2601.0 L451.8,2601.3 L455.8,2601.7 L459.8,2602.1 L463.8,2602.6 L467.8,2603.2 L471.8,2603.7 L475.8,2604.4 L479.8,2605.1 L483.8,2605.8 L487.8,2606.6 L491.8,2607.4 L495.8,2608.2 L499.8,2609.2 L503.8,2610.1 L507.8,2611.1 L511.8,2612.2 L515.8,2613.3 L519.8,2614.5 L523.8,2615.7 L527.8,2616.9 L531.8,2618.2 L535.8,2619.5 L539.8,2620.9 L543.8,2622.3 L547.8,2623.8 L551.8,2625.3 L555.8,2626.9 L559.8,2628.5 L563.8,2630.1 L567.8,2631.8 L571.8,2633.6 L575.8,2635.4 L579.8,2637.2 L583.8,2639.1 L587.8,2641.0 L591.8,2643.0 L595.8,2645.0 L599.8,2647.0 L603.8,2649.1 L607.8,2651.3 L611.8,2653.6 L615.8,2655.9 L619.8,2658.3 L623.8,2660.7 L627.8,2663.3 L631.8,2666.0 L635.8,2668.7 L639.8,2671.5 L643.8,2674.5 L647.8,2677.5 L651.8,2680.7 L655.8,2684.0 L659.8,2687.4 L663.8,2691.0 L667.8,2694.7 L671.8,2698.5 L675.8,2702.4 L679.8,2706.6 L683.8,2710.8 L687.8,2715.3 L691.8,2719.9 L695.8,2724.6 L699.8,2729.6 L703.8,2734.7 L707.8,2740.0 L711.8,2745.5 L715.8,2751.2 L719.8,2757.1 L723.8,2763.3 L727.8,2769.7 L731.8,2776.4 L735.8,2783.5 L739.8,2790.7 L743.8,2798.2 L747.8,2805.7 L751.8,2813.2 L755.8,2820.5 L759.8,2827.7 L763.8,2834.7 L767.8,2841.6 L771.8,2848.4 L775.8,2855.1 L779.8,2861.8 L783.8,2868.5 L787.8,2875.1 L791.8,2881.8 L795.8,2888.4 L799.8,2895.0 L803.8,2901.6 L807.8,2908.2 L811.8,2914.7 L815.8,2921.2 L819.8,2927.6 L823.8,2934.0 L827.8,2940.3 L831.8,2946.6 L835.8,2952.8 L839.8,2958.9 L843.8,2965.0 L847.8,2970.9 L851.8,2976.8 L855.8,2982.6 L859.8,2988.3 L863.8,2993.9 L867.8,2999.3 L871.8,3004.7 L875.8,3010.0 L879.8,3015.1 L883.8,3020.2 L887.8,3025.1 L891.8,3030.0 L895.8,3034.8 L899.8,3039.4 L903.8,3044.0 L907.8,3048.4 L911.8,3052.8 L915.8,3057.0 L919.8,3061.2 L923.8,3065.3 L927.8,3069.2 L931.8,3073.1 L935.8,3076.9 L939.8,3080.5 L943.8,3084.1 L947.8,3087.6 L951.8,3091.0 L955.8,3094.3 L959.8,3097.5 L963.8,3100.6 L967.8,3103.6 L971.8,3106.5 L975.8,3109.4 L979.8,3112.1 L983.8,3114.8 L987.8,3117.3 L991.8,3119.8 L995.8,3122.2 L999.8,3124.5 L1003.8,3126.7 L1007.8,3128.8 L1011.8,3130.9 L1015.8,3132.8 L1019.8,3134.7 L1023.8,3136.6 L1027.8,3138.3 L1031.8,3140.0 L1035.8,3141.7 L1039.8,3143.3 L1043.8,3144.8 L1047.8,3146.2 L1051.8,3147.6 L1055.8,3149.0 L1059.8,3150.3 L1063.8,3151.6 L1067.8,3152.8 L1071.8,3154.0 L1075.8,3155.1 L1079.8,3156.3 L1083.8,3157.3 L1087.8,3158.4 L1091.8,3159.4 L1095.8,3160.4 L1099.8,3161.4 L1103.8,3162.4 L1107.8,3163.3 L1111.8,3164.2 L1115.8,3165.2 L1119.8,3166.1 L1123.8,3167.0 L1127.8,3167.8 L1131.8,3168.7 L1135.8,3169.6 L1139.8,3170.4 L1143.8,3171.2 L1147.8,3172.1 L1151.8,3172.9 L1155.8,3173.7 L1159.8,3174.5 L1163.8,3175.3 L1167.8,3176.0 L1171.8,3176.8 L1175.8,3177.5 L1179.8,3178.3 L1183.8,3179.0 L1187.8,3179.7 L1191.8,3180.4 L1195.8,3181.1 L1199.8,3181.8 L1203.8,3182.4 L1207.8,3183.1 L1211.8,3183.7 L1215.8,3184.4 L1219.8,3185.0 L1223.8,3185.6 L1227.8,3186.2 L1231.8,3186.8 L1235.8,3187.4 L1239.8,3188.0 L1243.8,3188.6 L1247.8,3189.1 L1251.8,3189.7 L1255.8,3190.2 L1259.8,3190.7 L1263.8,3191.3 L1267.8,3191.8 L1271.8,3192.3 L1275.8,3192.8 L1279.8,3193.3 L1283.8,3193.7 L1287.8,3194.2 L1291.8,3194.7 L1295.8,3195.1 L1299.8,3195.5 L1303.8,3196.0 L1307.8,3196.4 L1311.8,3196.8 L1315.8,3197.2 L1319.8,3197.6 L1323.8,3198.0 L1327.8,3198.4 L1331.8,3198.7 L1335.8,3199.1 L1339.8,3199.5 L1343.8,3199.8 L1347.8,3200.2 L1351.8,3200.5 L1355.8,3200.8 L1359.8,3201.1 L1363.8,3201.4 L1367.8,3201.7 L1371.8,3202.0 L1375.8,3202.3 L1379.8,3202.6 L1383.8,3202.9 L1387.8,3203.1 L1391.8,3203.4 L1395.8,3203.6 L1399.8,3203.9 L1403.8,3204.1 L1407.8,3204.3 L1411.8,3204.6 L1415.8,3204.8 L1419.8,3205.0 L1423.8,3205.2 L1427.8,3205.4 L1431.8,3205.6 L1435.8,3205.8 L1439.8,3205.9 L1443.8,3206.1 L1447.8,3206.3 L1451.8,3206.4 L1455.8,3206.6 L1459.8,3206.7 L1463.8,3206.9 L1467.8,3207.0 L1471.8,3207.2 L1475.8,3207.3 L1479.8,3207.4 L1483.8,3207.5 L1487.8,3207.6 L1491.8,3207.7 L1495.8,3207.8 L1499.8,3207.9 L1503.8,3208.0 L1507.8,3208.1 L1511.8,3208.2 L1515.8,3208.2 L1519.8,3208.3 L1523.8,3208.4 L1527.8,3208.4 L1531.8,3208.5 L1535.8,3208.5 L1539.8,3208.6 L1543.8,3208.6 L1547.8,3208.7 L1551.8,3208.7 L1555.8,3208.7 L1559.8,3208.7 L1563.8,3208.8 L1567.8,3208.8 L1571.8,3208.8 L1575.8,3208.8 L1579.8,3208.8 L1583.8,3208.8 L1587.8,3208.8 L1591.8,3208.8 L1595.8,3208.8 L1599.8,3208.8 L1603.8,3208.8 L1607.8,3208.8 L1611.8,3208.7 L1615.8,3208.7 L1619.8,3208.7 L1623.8,3208.6 L1627.8,3208.6 L1631.8,3208.6 L1635.8,3208.5 L1639.8,3208.5 L1643.8,3208.5 L1647.8,3208.4 L1651.8,3208.4 L1655.8,3208.3 L1659.8,3208.3 L1663.8,3208.2 L1667.8,3208.1 L1671.8,3208.1 L1675.8,3208.0 L1679.8,3208.0 L1683.8,3207.9 L1687.8,3207.8 L1691.8,3207.8 L1695.8,3207.7 L1699.8,3207.6 L1703.8,3207.5 L1707.8,3207.5 L1711.8,3207.4 L1715.8,3207.3 L1719.8,3207.2 L1723.8,3207.2 L1727.8,3207.1 L1731.8,3207.0 L1735.8,3206.9 L1739.8,3206.8 L1743.8,3206.8 L1747.8,3206.7 L1751.8,3206.6 L1755.8,3206.5 L1759.8,3206.4 L1763.8,3206.3 L1767.8,3206.2 L1771.8,3206.2 L1775.8,3206.1 L1779.8,3206.0 L1783.8,3205.9 L1787.8,3205.8 L1791.8,3205.7 L1795.8,3205.6 L1799.8,3205.6 L1803.8,3205.5 L1807.8,3205.4 L1811.8,3205.3 L1815.8,3205.2 L1819.8,3205.1 L1823.8,3205.1 L1827.8,3205.0 L1831.8,3204.9 L1835.8,3204.8 L1839.8,3204.7 L1843.8,3204.7 L1847.8,3204.6 L1851.8,3204.5 L1855.8,3204.4 L1859.8,3204.4 L1863.8,3204.3 L1867.8,3204.2 L1871.8,3204.1 L1875.8,3204.1 L1879.8,3204.0 L1883.8,3204.0 L1887.8,3203.9 L1891.8,3203.8 L1895.8,3203.8 L1899.8,3203.7 L1903.8,3203.7 L1907.8,3203.6 L1911.8,3203.6 L1915.8,3203.5 L1919.8,3203.5 L1923.8,3203.5 L1927.8,3203.4 L1931.8,3203.4 L1935.8,3203.3 L1939.8,3203.3 L1943.8,3203.3 L1947.8,3203.3 L1951.8,3203.2 L1955.8,3203.2 L1959.8,3203.2 L1963.8,3203.2 L1967.8,3203.2 L1971.8,3203.2 L1975.8,3203.2 L1979.8,3203.2 L1983.8,3203.2 L1987.8,3203.2 L1991.8,3203.2 L1995.8,3203.3 L1999.8,3203.3 L2003.8,3203.3 L2007.8,3203.3 L2011.8,3203.4 L2015.8,3203.4 L2019.8,3203.4 L2023.8,3203.5 L2027.8,3203.5 L2031.8,3203.6 L2035.8,3203.7 L2039.8,3203.7 L2043.8,3203.8 L2047.8,3203.9 L2051.8,3204.0 L2055.8,3204.0 L2059.8,3204.1 L2063.8,3204.2 L2067.8,3204.3 L2071.8,3204.4 L2075.8,3204.5 L2079.8,3204.7 L2083.8,3204.8 L2087.8,3204.9 L2091.8,3205.0 L2095.8,3205.2 L2099.8,3205.3 L2103.8,3205.5 L2107.8,3205.6 L2111.8,3205.8 L2115.8,3206.0 L2119.8,3206.1 L2123.8,3206.3 L2127.8,3206.5 L2131.8,3206.7 L2135.8,3206.9 L2139.8,3207.1 L2143.8,3207.3 L2147.8,3207.5 L2151.8,3207.8 L2155.8,3208.0 L2159.8,3208.2 L2163.8,3208.5 L2167.8,3208.7 L2169.0,3208.8"/>
<path d="M316.8,2841.0 L320.8,2838.0 L324.8,2835.0 L328.8,2832.1 L332.8,2829.2 L336.8,2826.4 L340.8,2823.6 L344.8,2820.9 L348.8,2818.3 L352.8,2815.7 L356.8,2813.1 L360.8,2810.7 L364.8,2808.3 L368.8,2805.9 L372.8,2803.7 L376.8,2801.5 L380.8,2799.4 L384.8,2797.4 L388.8,2795.5 L392.8,2793.6 L396.8,2791.9 L400.8,2790.3 L404.8,2788.7 L408.8,2787.3 L412.8,2785.9 L416.8,2784.7 L420.8,2783.6 L424.8,2782.6 L428.8,2781.7 L432.8,2781.0 L436.8,2780.3 L440.8,2779.8 L444.8,2779.4 L448.8,2779.2 L452.8,2779.0 L456.8,2779.0 L460.8,2779.1 L464.8,2779.4 L468.8,2779.8 L472.8,2780.2 L476.8,2780.9 L480.8,2781.6 L484.8,2782.5 L488.8,2783.5 L492.8,2784.6 L496.8,2785.8 L500.8,2787.2 L504.8,2788.7 L508.8,2790.3 L512.8,2792.0 L516.8,2793.9 L520.8,2795.9 L524.8,2798.0 L528.8,2800.2 L532.8,2802.6 L536.8,2805.0 L540.8,2807.6 L544.8,2810.3 L548.8,2813.2 L552.8,2816.1 L556.8,2819.2 L560.8,2822.4 L564.8,2825.8 L568.8,2829.2 L572.8,2832.8 L576.8,2836.4 L580.8,2840.2 L584.8,2844.1 L588.8,2848.0 L592.8,2852.1 L596.8,2856.2 L600.8,2860.4 L604.8,2864.7 L608.8,2869.1 L612.8,2873.5 L616.8,2878.0 L620.8,2882.5 L624.8,2887.1 L628.8,2891.7 L632.8,2896.4 L636.8,2901.1 L640.8,2905.8 L644.8,2910.5 L648.8,2915.3 L652.8,2920.1 L656.8,2924.9 L660.8,2929.7 L664.8,2934.5 L668.8,2939.3 L672.8,2944.0 L676.8,2948.8 L680.8,2953.5 L684.8,2958.3 L688.8,2963.0 L692.8,2967.6 L696.8,2972.2 L700.8,2976.8 L704.8,2981.4 L708.8,2985.9 L712.8,2990.4 L716.8,2994.8 L720.8,2999.1 L724.8,3003.4 L728.8,3007.7 L732.8,3011.9 L736.8,3016.0 L740.8,3020.0 L744.8,3024.0 L748.8,3027.9 L752.8,3031.7 L756.8,3035.5 L760.8,3039.1 L764.8,3042.8 L768.8,3046.3 L772.8,3049.8 L776.8,3053.2 L780.8,3056.5 L784.8,3059.8 L788.8,3063.0 L792.8,3066.2 L796.8,3069.3 L800.8,3072.4 L804.8,3075.4 L808.8,3078.3 L812.8,3081.2 L816.8,3084.1 L820.8,3086.9 L824.8,3089.7 L828.8,3092.4 L832.8,3095.1 L836.8,3097.7 L840.8,3100.3 L844.8,3102.9 L848.8,3105.4 L852.8,3107.8 L856.8,3110.3 L860.8,3112.6 L864.8,3115.0 L868.8,3117.3 L872.8,3119.6 L876.8,3121.8 L880.8,3124.0 L884.8,3126.1 L888.8,3128.2 L892.8,3130.3 L896.8,3132.3 L900.8,3134.3 L904.8,3136.2 L908.8,3138.2 L912.8,3140.0 L916.8,3141.9 L920.8,3143.7 L924.8,3145.4 L928.8,3147.1 L932.8,3148.8 L936.8,3150.5 L940.8,3152.1 L944.8,3153.7 L948.8,3155.2 L952.8,3156.7 L956.8,3158.2 L960.8,3159.6 L964.8,3161.0 L968.8,3162.4 L972.8,3163.7 L976.8,3165.0 L980.8,3166.3 L984.8,3167.5 L988.8,3168.7 L992.8,3169.9 L996.8,3171.0 L1000.8,3172.1 L1004.8,3173.2 L1008.8,3174.3 L1012.8,3175.3 L1016.8,3176.3 L1020.8,3177.2 L1024.8,3178.1 L1028.8,3179.0 L1032.8,3179.9 L1036.8,3180.8 L1040.8,3181.6 L1044.8,3182.4 L1048.8,3183.2 L1052.8,3183.9 L1056.8,3184.7 L1060.8,3185.4 L1064.8,3186.1 L1068.8,3186.7 L1072.8,3187.4 L1076.8,3188.0 L1080.8,3188.6 L1084.8,3189.2 L1088.8,3189.8 L1092.8,3190.3 L1096.8,3190.9 L1100.8,3191.4 L1104.8,3191.9 L1108.8,3192.4 L1112.8,3192.9 L1116.8,3193.4 L1120.8,3193.8 L1124.8,3194.2 L1128.8,3194.7 L1132.8,3195.1 L1136.8,3195.5 L1140.8,3195.9 L1144.8,3196.3 L1148.8,3196.7 L1152.8,3197.1 L1156.8,3197.4 L1160.8,3197.8 L1164.8,3198.1 L1168.8,3198.5 L1172.8,3198.8 L1176.8,3199.2 L1180.8,3199.5 L1184.8,3199.8 L1188.8,3200.2 L1192.8,3200.5 L1196.8,3200.8 L1200.8,3201.1 L1204.8,3201.4 L1208.8,3201.7 L1212.8,3202.0 L1216.8,3202.3 L1220.8,3202.6 L1224.8,3202.9 L1228.8,3203.1 L1232.8,3203.4 L1236.8,3203.7 L1240.8,3203.9 L1244.8,3204.2 L1248.8,3204.4 L1252.8,3204.7 L1256.8,3204.9 L1260.8,3205.2 L1264.8,3205.4 L1268.8,3205.6 L1272.8,3205.9 L1276.8,3206.1 L1280.8,3206.3 L1284.8,3206.5 L1288.8,3206.7 L1292.8,3206.9 L1296.8,3207.1 L1300.8,3207.3 L1304.8,3207.5 L1308.8,3207.7 L1312.8,3207.9 L1316.8,3208.1 L1320.8,3208.3 L1324.8,3208.4 L1328.8,3208.6 L1332.8,3208.8 L1336.8,3208.9 L1340.8,3209.1 L1344.8,3209.2 L1348.8,3209.4 L1352.8,3209.5 L1356.8,3209.7 L1360.8,3209.8 L1364.8,3210.0 L1368.8,3210.1 L1372.8,3210.2 L1376.8,3210.3 L1380.8,3210.5 L1384.8,3210.6 L1388.8,3210.7 L1392.8,3210.8 L1396.8,3210.9 L1400.8,3211.0 L1404.8,3211.1 L1408.8,3211.2 L1412.8,3211.3 L1416.8,3211.4 L1420.8,3211.5 L1424.8,3211.6 L1428.8,3211.7 L1432.8,3211.8 L1436.8,3211.9 L1440.8,3211.9 L1444.8,3212.0 L1448.8,3212.1 L1452.8,3212.2 L1456.8,3212.2 L1460.8,3212.3 L1464.8,3212.3 L1468.8,3212.4 L1472.8,3212.5 L1476.8,3212.5 L1480.8,3212.6 L1484.8,3212.6 L1488.8,3212.7 L1492.8,3212.7 L1496.8,3212.7 L1500.8,3212.8 L1504.8,3212.8 L1508.8,3212.8 L1512.8,3212.9 L1516.8,3212.9 L1520.8,3212.9 L1524.8,3213.0 L1528.8,3213.0 L1532.8,3213.0 L1536.8,3213.0 L1540.8,3213.0 L1544.8,3213.1 L1548.8,3213.1 L1552.8,3213.1 L1556.8,3213.1 L1560.8,3213.1 L1564.8,3213.1 L1568.8,3213.1 L1572.8,3213.1 L1576.8,3213.1 L1580.8,3213.1 L1584.8,3213.1 L1588.8,3213.1 L1592.8,3213.1 L1596.8,3213.1 L1600.8,3213.1 L1604.8,3213.1 L1608.8,3213.1 L1612.8,3213.0 L1616.8,3213.0 L1620.8,3213.0 L1624.8,3213.0 L1628.8,3213.0 L1632.8,3213.0 L1636.8,3212.9 L1640.8,3212.9 L1644.8,3212.9 L1648.8,3212.9 L1652.8,3212.9 L1656.8,3212.8 L1660.8,3212.8 L1664.8,3212.8 L1668.8,3212.7 L1672.8,3212.7 L1676.8,3212.7 L1680.8,3212.7 L1684.8,3212.6 L1688.8,3212.6 L1692.8,3212.6 L1696.8,3212.5 L1700.8,3212.5 L1704.8,3212.5 L1708.8,3212.4 L1712.8,3212.4 L1716.8,3212.4 L1720.8,3212.3 L1724.8,3212.3 L1728.8,3212.3 L1732.8,3212.2 L1736.8,3212.2 L1740.8,3212.1 L1744.8,3212.1 L1748.8,3212.1 L1752.8,3212.0 L1756.8,3212.0 L1760.8,3212.0 L1764.8,3211.9 L1768.8,3211.9 L1772.8,3211.8 L1776.8,3211.8 L1780.8,3211.8 L1784.8,3211.7 L1788.8,3211.7 L1792.8,3211.7 L1796.8,3211.6 L1800.8,3211.6 L1804.8,3211.5 L1808.8,3211.5 L1812.8,3211.5 L1816.8,3211.4 L1820.8,3211.4 L1824.8,3211.4 L1828.8,3211.3 L1832.8,3211.3 L1836.8,3211.3 L1840.8,3211.2 L1844.8,3211.2 L1848.8,3211.2 L1852.8,3211.1 L1856.8,3211.1 L1860.8,3211.1 L1864.8,3211.1 L1868.8,3211.0 L1872.8,3211.0 L1876.8,3211.0 L1880.8,3211.0 L1884.8,3210.9 L1888.8,3210.9 L1892.8,3210.9 L1896.8,3210.9 L1900.8,3210.9 L1904.8,3210.8 L1908.8,3210.8 L1912.8,3210.8 L1916.8,3210.8 L1920.8,3210.8 L1924.8,3210.8 L1928.8,3210.8 L1932.8,3210.8 L1936.8,3210.7 L1940.8,3210.7 L1944.8,3210.7 L1948.8,3210.7 L1952.8,3210.7 L1956.8,3210.7 L1960.8,3210.7 L1964.8,3210.8 L1968.8,3210.8 L1972.8,3210.8 L1976.8,3210.8 L1980.8,3210.8 L1984.8,3210.8 L1988.8,3210.8 L1992.8,3210.8 L1996.8,3210.9 L2000.8,3210.9 L2004.8,3210.9 L2008.8,3210.9 L2012.8,3211.0 L2016.8,3211.0 L2020.8,3211.0 L2024.8,3211.1 L2028.8,3211.1 L2032.8,3211.1 L2036.8,3211.2 L2040.8,3211.2 L2044.8,3211.3 L2048.8,3211.3 L2052.8,3211.4 L2056.8,3211.4 L2060.8,3211.5 L2064.8,3211.5 L2068.8,3211.6 L2072.8,3211.7 L2076.8,3211.7 L2080.8,3211.8 L2084.8,3211.9 L2088.8,3211.9 L2092.8,3212.0 L2096.8,3212.1 L2100.8,3212.2 L2104.8,3212.3 L2108.8,3212.4 L2112.8,3212.5 L2116.8,3212.6 L2120.8,3212.7 L2124.8,3212.8 L2128.8,3212.9 L2132.8,3213.0 L2136.8,3213.1 L2140.8,3213.2 L2144.8,3213.3 L2148.8,3213.4 L2152.8,3213.6 L2156.8,3213.7 L2160.8,3213.8 L2164.8,3214.0 L2168.8,3214.1 L2169.0,3214.1"/>
<path d="M316.8,2840.4 L320.8,2840.7 L324.8,2841.1 L328.8,2841.4 L332.8,2841.8 L336.8,2842.1 L340.8,2842.4 L344.8,2842.8 L348.8,2843.1 L352.8,2843.5 L356.8,2843.8 L360.8,2844.2 L364.8,2844.5 L368.8,2844.9 L372.8,2845.3 L376.8,2845.6 L380.8,2846.0 L384.8,2846.4 L388.8,2846.8 L392.8,2847.2 L396.8,2847.6 L400.8,2848.0 L404.8,2848.5 L408.8,2848.9 L412.8,2849.3 L416.8,2849.8 L420.8,2850.3 L424.8,2850.8 L428.8,2851.3 L432.8,2851.8 L436.8,2852.3 L440.8,2852.9 L444.8,2853.4 L448.8,2854.0 L452.8,2854.6 L456.8,2855.2 L460.8,2855.8 L464.8,2856.5 L468.8,2857.2 L472.8,2857.8 L476.8,2858.6 L480.8,2859.3 L484.8,2860.1 L488.8,2860.8 L492.8,2861.6 L496.8,2862.5 L500.8,2863.3 L504.8,2864.2 L508.8,2865.1 L512.8,2866.0 L516.8,2867.0 L520.8,2868.0 L524.8,2869.0 L528.8,2870.0 L532.8,2871.1 L536.8,2872.2 L540.8,2873.3 L544.8,2874.5 L548.8,2875.7 L552.8,2876.9 L556.8,2878.2 L560.8,2879.5 L564.8,2880.8 L568.8,2882.2 L572.8,2883.6 L576.8,2885.1 L580.8,2886.6 L584.8,2888.1 L588.8,2889.7 L592.8,2891.4 L596.8,2893.1 L600.8,2894.8 L604.8,2896.6 L608.8,2898.5 L612.8,2900.4 L616.8,2902.4 L620.8,2904.5 L624.8,2906.6 L628.8,2908.7 L632.8,2911.0 L636.8,2913.3 L640.8,2915.7 L644.8,2918.1 L648.8,2920.7 L652.8,2923.3 L656.8,2925.9 L660.8,2928.7 L664.8,2931.6 L668.8,2934.5 L672.8,2937.5 L676.8,2940.6 L680.8,2943.8 L684.8,2947.0 L688.8,2950.4 L692.8,2953.8 L696.8,2957.3 L700.8,2960.8 L704.8,2964.4 L708.8,2968.0 L712.8,2971.6 L716.8,2975.1 L720.8,2978.6 L724.8,2982.1 L728.8,2985.6 L732.8,2989.2 L736.8,2992.7 L740.8,2996.3 L744.8,2999.8 L748.8,3003.3 L752.8,3006.8 L756.8,3010.5 L760.8,3014.2 L764.8,3017.8 L768.8,3021.5 L772.8,3025.1 L776.8,3028.7 L780.8,3032.2 L784.8,3035.7 L788.8,3039.2 L792.8,3042.7 L796.8,3046.1 L800.8,3049.6 L804.8,3052.9 L808.8,3056.3 L812.8,3059.6 L816.8,3062.9 L820.8,3066.1 L824.8,3069.3 L828.8,3072.5 L832.8,3075.6 L836.8,3078.7 L840.8,3081.8 L844.8,3084.8 L848.8,3087.8 L852.8,3090.7 L856.8,3093.6 L860.8,3096.5 L864.8,3099.3 L868.8,3102.1 L872.8,3104.8 L876.8,3107.5 L880.8,3110.1 L884.8,3112.7 L888.8,3115.2 L892.8,3117.7 L896.8,3120.2 L900.8,3122.6 L904.8,3124.9 L908.8,3127.2 L912.8,3129.5 L916.8,3131.7 L920.8,3133.8 L924.8,3135.9 L928.8,3138.0 L932.8,3140.0 L936.8,3141.9 L940.8,3143.8 L944.8,3145.7 L948.8,3147.5 L952.8,3149.3 L956.8,3151.1 L960.8,3152.8 L964.8,3154.4 L968.8,3156.0 L972.8,3157.6 L976.8,3159.2 L980.8,3160.7 L984.8,3162.1 L988.8,3163.5 L992.8,3164.9 L996.8,3166.3 L1000.8,3167.6 L1004.8,3168.8 L1008.8,3170.1 L1012.8,3171.3 L1016.8,3172.4 L1020.8,3173.6 L1024.8,3174.7 L1028.8,3175.7 L1032.8,3176.8 L1036.8,3177.8 L1040.8,3178.8 L1044.8,3179.7 L1048.8,3180.6 L1052.8,3181.5 L1056.8,3182.4 L1060.8,3183.2 L1064.8,3184.0 L1068.8,3184.8 L1072.8,3185.5 L1076.8,3186.3 L1080.8,3187.0 L1084.8,3187.7 L1088.8,3188.3 L1092.8,3188.9 L1096.8,3189.6 L1100.8,3190.1 L1104.8,3190.7 L1108.8,3191.3 L1112.8,3191.8 L1116.8,3192.3 L1120.8,3192.8 L1124.8,3193.3 L1128.8,3193.7 L1132.8,3194.2 L1136.8,3194.6 L1140.8,3195.0 L1144.8,3195.4 L1148.8,3195.8 L1152.8,3196.1 L1156.8,3196.5 L1160.8,3196.8 L1164.8,3197.1 L1168.8,3197.4 L1172.8,3197.8 L1176.8,3198.0 L1180.8,3198.3 L1184.8,3198.6 L1188.8,3198.9 L1192.8,3199.1 L1196.8,3199.4 L1200.8,3199.6 L1204.8,3199.9 L1208.8,3200.1 L1212.8,3200.3 L1216.8,3200.5 L1220.8,3200.8 L1224.8,3201.0 L1228.8,3201.2 L1232.8,3201.4 L1236.8,3201.6 L1240.8,3201.8 L1244.8,3202.0 L1248.8,3202.2 L1252.8,3202.4 L1256.8,3202.6 L1260.8,3202.8 L1264.8,3203.0 L1268.8,3203.2 L1272.8,3203.3 L1276.8,3203.5 L1280.8,3203.7 L1284.8,3203.9 L1288.8,3204.0 L1292.8,3204.2 L1296.8,3204.4 L1300.8,3204.5 L1304.8,3204.7 L1308.8,3204.9 L1312.8,3205.0 L1316.8,3205.2 L1320.8,3205.3 L1324.8,3205.5 L1328.8,3205.6 L1332.8,3205.7 L1336.8,3205.9 L1340.8,3206.0 L1344.8,3206.2 L1348.8,3206.3 L1352.8,3206.4 L1356.8,3206.5 L1360.8,3206.7 L1364.8,3206.8 L1368.8,3206.9 L1372.8,3207.0 L1376.8,3207.1 L1380.8,3207.2 L1384.8,3207.4 L1388.8,3207.5 L1392.8,3207.6 L1396.8,3207.7 L1400.8,3207.8 L1404.8,3207.9 L1408.8,3208.0 L1412.8,3208.1 L1416.8,3208.2 L1420.8,3208.3 L1424.8,3208.3 L1428.8,3208.4 L1432.8,3208.5 L1436.8,3208.6 L1440.8,3208.7 L1444.8,3208.8 L1448.8,3208.8 L1452.8,3208.9 L1456.8,3209.0 L1460.8,3209.0 L1464.8,3209.1 L1468.8,3209.2 L1472.8,3209.3 L1476.8,3209.3 L1480.8,3209.4 L1484.8,3209.4 L1488.8,3209.5 L1492.8,3209.6 L1496.8,3209.6 L1500.8,3209.7 L1504.8,3209.7 L1508.8,3209.8 L1512.8,3209.8 L1516.8,3209.9 L1520.8,3209.9 L1524.8,3209.9 L1528.8,3210.0 L1532.8,3210.0 L1536.8,3210.1 L1540.8,3210.1 L1544.8,3210.1 L1548.8,3210.2 L1552.8,3210.2 L1556.8,3210.2 L1560.8,3210.3 L1564.8,3210.3 L1568.8,3210.3 L1572.8,3210.4 L1576.8,3210.4 L1580.8,3210.4 L1584.8,3210.4 L1588.8,3210.5 L1592.8,3210.5 L1596.8,3210.5 L1600.8,3210.5 L1604.8,3210.6 L1608.8,3210.6 L1612.8,3210.7 L1616.8,3210.7 L1620.8,3210.7 L1624.8,3210.8 L1628.8,3210.8 L1632.8,3210.9 L1636.8,3210.9 L1640.8,3210.9 L1644.8,3211.0 L1648.8,3211.0 L1652.8,3211.0 L1656.8,3211.1 L1660.8,3211.1 L1664.8,3211.1 L1668.8,3211.2 L1672.8,3211.2 L1676.8,3211.2 L1680.8,3211.3 L1684.8,3211.3 L1688.8,3211.3 L1692.8,3211.3 L1696.8,3211.4 L1700.8,3211.4 L1704.8,3211.4 L1708.8,3211.4 L1712.8,3211.5 L1716.8,3211.5 L1720.8,3211.5 L1724.8,3211.5 L1728.8,3211.5 L1732.8,3211.6 L1736.8,3211.6 L1740.8,3211.6 L1744.8,3211.6 L1748.8,3211.6 L1752.8,3211.7 L1756.8,3211.7 L1760.8,3211.7 L1764.8,3211.7 L1768.8,3211.7 L1772.8,3211.7 L1776.8,3211.8 L1780.8,3211.8 L1784.8,3211.8 L1788.8,3211.8 L1792.8,3211.8 L1796.8,3211.8 L1800.8,3211.8 L1804.8,3211.8 L1808.8,3211.8 L1812.8,3211.8 L1816.8,3211.8 L1820.8,3211.7 L1824.8,3211.7 L1828.8,3211.7 L1832.8,3211.7 L1836.8,3211.7 L1840.8,3211.7 L1844.8,3211.7 L1848.8,3211.6 L1852.8,3211.6 L1856.8,3211.6 L1860.8,3211.6 L1864.8,3211.6 L1868.8,3211.6 L1872.8,3211.6 L1876.8,3211.6 L1880.8,3211.5 L1884.8,3211.5 L1888.8,3211.5 L1892.8,3211.5 L1896.8,3211.5 L1900.8,3211.5 L1904.8,3211.5 L1908.8,3211.5 L1912.8,3211.4 L1916.8,3211.4 L1920.8,3211.4 L1924.8,3211.4 L1928.8,3211.4 L1932.8,3211.4 L1936.8,3211.4 L1940.8,3211.4 L1944.8,3211.4 L1948.8,3211.4 L1952.8,3211.4 L1956.8,3211.4 L1960.8,3211.4 L1964.8,3211.4 L1968.8,3211.4 L1972.8,3211.4 L1976.8,3211.4 L1980.8,3211.4 L1984.8,3211.4 L1988.8,3211.4 L1992.8,3211.4 L1996.8,3211.4 L2000.8,3211.4 L2004.8,3211.4 L2008.8,3211.4 L2012.8,3211.4 L2016.8,3211.4 L2020.8,3211.4 L2024.8,3211.4 L2028.8,3211.4 L2032.8,3211.5 L2036.8,3211.5 L2040.8,3211.5 L2044.8,3211.5 L2048.8,3211.5 L2052.8,3211.5 L2056.8,3211.6 L2060.8,3211.6 L2064.8,3211.6 L2068.8,3211.6 L2072.8,3211.6 L2076.8,3211.7 L2080.8,3211.7 L2084.8,3211.7 L2088.8,3211.8 L2092.8,3211.8 L2096.8,3211.8 L2100.8,3211.8 L2104.8,3211.9 L2108.8,3211.9 L2112.8,3212.0 L2116.8,3212.0 L2120.8,3212.0 L2124.8,3212.1 L2128.8,3212.1 L2132.8,3212.2 L2136.8,3212.2 L2140.8,3212.3 L2144.8,3212.3 L2148.8,3212.4 L2152.8,3212.4 L2156.8,3212.5 L2160.8,3212.5 L2164.8,3212.6 L2168.8,3212.6 L2169.0,3212.7"/>
<path d="M316.8,2870.1 L320.8,2870.6 L324.8,2871.1 L328.8,2871.6 L332.8,2872.1 L336.8,2872.6 L340.8,2873.1 L344.8,2873.5 L348.8,2874.0 L352.8,2874.4 L356.8,2874.9 L360.8,2875.3 L364.8,2875.8 L368.8,2876.2 L372.8,2876.6 L376.8,2877.0 L380.8,2877.5 L384.8,2877.9 L388.8,2878.3 L392.8,2878.7 L396.8,2879.2 L400.8,2879.6 L404.8,2880.0 L408.8,2880.5 L412.8,2880.9 L416.8,2881.3 L420.8,2881.8 L424.8,2882.3 L428.8,2882.7 L432.8,2883.2 L436.8,2883.7 L440.8,2884.2 L444.8,2884.7 L448.8,2885.2 L452.8,2885.7 L456.8,2886.2 L460.8,2886.8 L464.8,2887.4 L468.8,2887.9 L472.8,2888.5 L476.8,2889.1 L480.8,2889.8 L484.8,2890.4 L488.8,2891.1 L492.8,2891.8 L496.8,2892.5 L500.8,2893.2 L504.8,2893.9 L508.8,2894.7 L512.8,2895.5 L516.8,2896.3 L520.8,2897.2 L524.8,2898.0 L528.8,2898.9 L532.8,2899.8 L536.8,2900.8 L540.8,2901.8 L544.8,2902.8 L548.8,2903.8 L552.8,2904.9 L556.8,2906.0 L560.8,2907.1 L564.8,2908.2 L568.8,2909.4 L572.8,2910.7 L576.8,2911.9 L580.8,2913.2 L584.8,2914.6 L588.8,2915.9 L592.8,2917.4 L596.8,2918.8 L600.8,2920.3 L604.8,2921.8 L608.8,2923.4 L612.8,2925.0 L616.8,2926.7 L620.8,2928.4 L624.8,2930.1 L628.8,2931.9 L632.8,2933.7 L636.8,2935.6 L640.8,2937.5 L644.8,2939.5 L648.8,2941.5 L652.8,2943.6 L656.8,2945.7 L660.8,2947.9 L664.8,2950.1 L668.8,2952.4 L672.8,2954.7 L676.8,2957.1 L680.8,2959.6 L684.8,2962.0 L688.8,2964.6 L692.8,2967.2 L696.8,2969.8 L700.8,2972.5 L704.8,2975.2 L708.8,2978.0 L712.8,2980.8 L716.8,2983.9 L720.8,2987.0 L724.8,2990.1 L728.8,2993.3 L732.8,2996.4 L736.8,2999.7 L740.8,3002.9 L744.8,3006.2 L748.8,3009.5 L752.8,3012.7 L756.8,3015.8 L760.8,3019.0 L764.8,3022.1 L768.8,3025.3 L772.8,3028.4 L776.8,3031.6 L780.8,3034.8 L784.8,3038.0 L788.8,3041.2 L792.8,3044.4 L796.8,3047.5 L800.8,3050.7 L804.8,3053.9 L808.8,3057.1 L812.8,3060.3 L816.8,3063.5 L820.8,3066.6 L824.8,3069.7 L828.8,3072.9 L832.8,3076.0 L836.8,3079.1 L840.8,3082.2 L844.8,3085.2 L848.8,3088.2 L852.8,3091.2 L856.8,3094.2 L860.8,3097.1 L864.8,3100.1 L868.8,3102.9 L872.8,3105.8 L876.8,3108.6 L880.8,3111.3 L884.8,3114.1 L888.8,3116.8 L892.8,3119.4 L896.8,3122.0 L900.8,3124.5 L904.8,3127.0 L908.8,3129.5 L912.8,3131.9 L916.8,3134.2 L920.8,3136.5 L924.8,3138.8 L928.8,3141.0 L932.8,3143.1 L936.8,3145.2 L940.8,3147.3 L944.8,3149.3 L948.8,3151.2 L952.8,3153.2 L956.8,3155.0 L960.8,3156.9 L964.8,3158.6 L968.8,3160.4 L972.8,3162.1 L976.8,3163.7 L980.8,3165.4 L984.8,3166.9 L988.8,3168.5 L992.8,3169.9 L996.8,3171.4 L1000.8,3172.8 L1004.8,3174.2 L1008.8,3175.5 L1012.8,3176.8 L1016.8,3178.0 L1020.8,3179.2 L1024.8,3180.4 L1028.8,3181.6 L1032.8,3182.7 L1036.8,3183.7 L1040.8,3184.8 L1044.8,3185.8 L1048.8,3186.7 L1052.8,3187.6 L1056.8,3188.5 L1060.8,3189.4 L1064.8,3190.2 L1068.8,3191.0 L1072.8,3191.8 L1076.8,3192.5 L1080.8,3193.2 L1084.8,3193.9 L1088.8,3194.6 L1092.8,3195.2 L1096.8,3195.8 L1100.8,3196.4 L1104.8,3196.9 L1108.8,3197.4 L1112.8,3197.9 L1116.8,3198.4 L1120.8,3198.9 L1124.8,3199.3 L1128.8,3199.7 L1132.8,3200.1 L1136.8,3200.5 L1140.8,3200.9 L1144.8,3201.2 L1148.8,3201.6 L1152.8,3201.9 L1156.8,3202.2 L1160.8,3202.4 L1164.8,3202.7 L1168.8,3203.0 L1172.8,3203.2 L1176.8,3203.5 L1180.8,3203.7 L1184.8,3203.9 L1188.8,3204.1 L1192.8,3204.3 L1196.8,3204.5 L1200.8,3204.7 L1204.8,3204.9 L1208.8,3205.0 L1212.8,3205.2 L1216.8,3205.4 L1220.8,3205.6 L1224.8,3205.7 L1228.8,3205.9 L1232.8,3206.0 L1236.8,3206.2 L1240.8,3206.4 L1244.8,3206.5 L1248.8,3206.7 L1252.8,3206.8 L1256.8,3207.0 L1260.8,3207.1 L1264.8,3207.3 L1268.8,3207.4 L1272.8,3207.6 L1276.8,3207.7 L1280.8,3207.8 L1284.8,3208.0 L1288.8,3208.1 L1292.8,3208.2 L1296.8,3208.4 L1300.8,3208.5 L1304.8,3208.6 L1308.8,3208.8 L1312.8,3208.9 L1316.8,3209.0 L1320.8,3209.1 L1324.8,3209.3 L1328.8,3209.4 L1332.8,3209.5 L1336.8,3209.6 L1340.8,3209.7 L1344.8,3209.9 L1348.8,3210.0 L1352.8,3210.1 L1356.8,3210.2 L1360.8,3210.3 L1364.8,3210.4 L1368.8,3210.5 L1372.8,3210.6 L1376.8,3210.7 L1380.8,3210.8 L1384.8,3210.9 L1388.8,3211.0 L1392.8,3211.1 L1396.8,3211.2 L1400.8,3211.3 L1404.8,3211.4 L1408.8,3211.5 L1412.8,3211.6 L1416.8,3211.7 L1420.8,3211.8 L1424.8,3211.8 L1428.8,3211.9 L1432.8,3212.0 L1436.8,3212.1 L1440.8,3212.2 L1444.8,3212.3 L1448.8,3212.3 L1452.8,3212.4 L1456.8,3212.5 L1460.8,3212.6 L1464.8,3212.6 L1468.8,3212.7 L1472.8,3212.8 L1476.8,3212.8 L1480.8,3212.9 L1484.8,3213.0 L1488.8,3213.0 L1492.8,3213.1 L1496.8,3213.2 L1500.8,3213.2 L1504.8,3213.3 L1508.8,3213.4 L1512.8,3213.4 L1516.8,3213.5 L1520.8,3213.5 L1524.8,3213.6 L1528.8,3213.6 L1532.8,3213.7 L1536.8,3213.8 L1540.8,3213.8 L1544.8,3213.9 L1548.8,3213.9 L1552.8,3214.0 L1556.8,3214.0 L1560.8,3214.1 L1564.8,3214.1 L1568.8,3214.1 L1572.8,3214.2 L1576.8,3214.2 L1580.8,3214.3 L1584.8,3214.3 L1588.8,3214.4 L1592.8,3214.4 L1596.8,3214.4 L1600.8,3214.5 L1604.8,3214.5 L1608.8,3214.5 L1612.8,3214.5 L1616.8,3214.5 L1620.8,3214.5 L1624.8,3214.5 L1628.8,3214.5 L1632.8,3214.5 L1636.8,3214.5 L1640.8,3214.5 L1644.8,3214.5 L1648.8,3214.5 L1652.8,3214.5 L1656.8,3214.5 L1660.8,3214.5 L1664.8,3214.5 L1668.8,3214.5 L1672.8,3214.5 L1676.8,3214.5 L1680.8,3214.4 L1684.8,3214.4 L1688.8,3214.4 L1692.8,3214.4 L1696.8,3214.4 L1700.8,3214.4 L1704.8,3214.4 L1708.8,3214.4 L1712.8,3214.4 L1716.8,3214.3 L1720.8,3214.3 L1724.8,3214.3 L1728.8,3214.3 L1732.8,3214.3 L1736.8,3214.3 L1740.8,3214.2 L1744.8,3214.2 L1748.8,3214.2 L1752.8,3214.2 L1756.8,3214.2 L1760.8,3214.2 L1764.8,3214.1 L1768.8,3214.1 L1772.8,3214.1 L1776.8,3214.1 L1780.8,3214.0 L1784.8,3214.0 L1788.8,3214.0 L1792.8,3214.0 L1796.8,3214.0 L1800.8,3214.0 L1804.8,3214.0 L1808.8,3214.0 L1812.8,3214.0 L1816.8,3214.0 L1820.8,3214.0 L1824.8,3214.0 L1828.8,3214.0 L1832.8,3214.0 L1836.8,3214.0 L1840.8,3214.0 L1844.8,3214.0 L1848.8,3214.0 L1852.8,3214.0 L1856.8,3214.0 L1860.8,3214.0 L1864.8,3214.0 L1868.8,3214.0 L1872.8,3214.0 L1876.8,3214.0 L1880.8,3214.0 L1884.8,3214.0 L1888.8,3214.0 L1892.8,3214.0 L1896.8,3214.0 L1900.8,3213.9 L1904.8,3213.9 L1908.8,3213.9 L1912.8,3213.9 L1916.8,3213.9 L1920.8,3213.9 L1924.8,3213.9 L1928.8,3213.9 L1932.8,3213.9 L1936.8,3213.9 L1940.8,3213.9 L1944.8,3213.9 L1948.8,3213.9 L1952.8,3213.9 L1956.8,3213.9 L1960.8,3213.9 L1964.8,3213.9 L1968.8,3213.9 L1972.8,3213.9 L1976.8,3213.9 L1980.8,3213.8 L1984.8,3213.8 L1988.8,3213.8 L1992.8,3213.8 L1996.8,3213.8 L2000.8,3213.8 L2004.8,3213.8 L2008.8,3213.8 L2012.8,3213.8 L2016.8,3213.8 L2020.8,3213.8 L2024.8,3213.8 L2028.8,3213.8 L2032.8,3213.8 L2036.8,3213.8 L2040.8,3213.8 L2044.8,3213.8 L2048.8,3213.8 L2052.8,3213.8 L2056.8,3213.7 L2060.8,3213.7 L2064.8,3213.7 L2068.8,3213.7 L2072.8,3213.7 L2076.8,3213.7 L2080.8,3213.7 L2084.8,3213.7 L2088.8,3213.7 L2092.8,3213.7 L2096.8,3213.7 L2100.8,3213.7 L2104.8,3213.7 L2108.8,3213.7 L2112.8,3213.7 L2116.8,3213.7 L2120.8,3213.7 L2124.8,3213.7 L2128.8,3213.7 L2132.8,3213.7 L2136.8,3213.7 L2140.8,3213.7 L2144.8,3213.7 L2148.8,3213.7 L2152.8,3213.7 L2156.8,3213.7 L2160.8,3213.7 L2164.8,3213.7 L2168.8,3213.7 L2169.0,3213.7"/>
</g></g>
<g stroke="#000" fill="none">
<line x1="285.5" y1="68" x2="285.5" y2="1459" stroke-width="5.5"/>
<line x1="283" y1="1455.3" x2="2165" y2="1455.3" stroke-width="7"/>
<path d="M283,73.5 H2161.3" stroke-width="10.5" stroke-linejoin="round"/>
<path d="M2161.3,68.3 L2161.3,1458.8" stroke-width="9.2"/>
<path d="M2156,73.5 H2161.3 V79" stroke-width="10.5" stroke-linejoin="round"/>
<line x1="286" y1="1395.5" x2="299" y2="1395.5" stroke-width="8"/>
<line x1="286" y1="1338.0" x2="313" y2="1338.0" stroke-width="9.5"/>
<line x1="286" y1="1280.6" x2="299" y2="1280.6" stroke-width="8"/>
<line x1="286" y1="1223.1" x2="313" y2="1223.1" stroke-width="9.5"/>
<line x1="286" y1="1165.6" x2="299" y2="1165.6" stroke-width="8"/>
<line x1="286" y1="1108.2" x2="313" y2="1108.2" stroke-width="9.5"/>
<line x1="286" y1="1050.7" x2="299" y2="1050.7" stroke-width="8"/>
<line x1="286" y1="993.2" x2="313" y2="993.2" stroke-width="9.5"/>
<line x1="286" y1="935.7" x2="299" y2="935.7" stroke-width="8"/>
<line x1="286" y1="878.2" x2="313" y2="878.2" stroke-width="9.5"/>
<line x1="286" y1="820.8" x2="299" y2="820.8" stroke-width="8"/>
<line x1="286" y1="763.3" x2="313" y2="763.3" stroke-width="9.5"/>
<line x1="286" y1="705.8" x2="299" y2="705.8" stroke-width="8"/>
<line x1="286" y1="648.4" x2="313" y2="648.4" stroke-width="9.5"/>
<line x1="286" y1="590.9" x2="299" y2="590.9" stroke-width="8"/>
<line x1="286" y1="533.4" x2="313" y2="533.4" stroke-width="9.5"/>
<line x1="286" y1="475.9" x2="299" y2="475.9" stroke-width="8"/>
<line x1="286" y1="418.5" x2="313" y2="418.5" stroke-width="9.5"/>
<line x1="286" y1="361.0" x2="299" y2="361.0" stroke-width="8"/>
<line x1="286" y1="303.5" x2="313" y2="303.5" stroke-width="9.5"/>
<line x1="286" y1="246.0" x2="299" y2="246.0" stroke-width="8"/>
<line x1="286" y1="188.5" x2="313" y2="188.5" stroke-width="9.5"/>
<line x1="286" y1="131.1" x2="299" y2="131.1" stroke-width="8"/>
<line x1="442.2" y1="1453" x2="442.2" y2="1441" stroke-width="7.5" stroke-linecap="round"/>
<line x1="598.5" y1="1453" x2="598.5" y2="1429" stroke-width="7.5" stroke-linecap="round"/>
<line x1="754.8" y1="1453" x2="754.8" y2="1441" stroke-width="7.5" stroke-linecap="round"/>
<line x1="911.0" y1="1453" x2="911.0" y2="1429" stroke-width="7.5" stroke-linecap="round"/>
<line x1="1067.2" y1="1453" x2="1067.2" y2="1441" stroke-width="7.5" stroke-linecap="round"/>
<line x1="1223.5" y1="1453" x2="1223.5" y2="1429" stroke-width="7.5" stroke-linecap="round"/>
<line x1="1379.8" y1="1453" x2="1379.8" y2="1441" stroke-width="7.5" stroke-linecap="round"/>
<line x1="1536.0" y1="1453" x2="1536.0" y2="1429" stroke-width="7.5" stroke-linecap="round"/>
<line x1="1692.2" y1="1453" x2="1692.2" y2="1441" stroke-width="7.5" stroke-linecap="round"/>
<line x1="1848.5" y1="1453" x2="1848.5" y2="1429" stroke-width="7.5" stroke-linecap="round"/>
<line x1="2004.8" y1="1453" x2="2004.8" y2="1441" stroke-width="7.5" stroke-linecap="round"/>
</g>
<g fill="#000">
<text transform="translate(255.40,1471.30)" font-size="61" text-anchor="end">0</text>
<text transform="translate(255.40,1241.40)" font-size="61" text-anchor="end">500</text>
<text transform="translate(255.40,1011.50)" font-size="61" text-anchor="end">1000</text>
<text transform="translate(255.40,781.60)" font-size="61" text-anchor="end">1500</text>
<text transform="translate(255.40,551.70)" font-size="61" text-anchor="end">2000</text>
<text transform="translate(255.40,321.80)" font-size="61" text-anchor="end">2500</text>
<text transform="translate(255.40,91.90)" font-size="61" text-anchor="end">3000</text>
<text transform="translate(286.00,1532.80) scale(1,1.050)" font-size="62.1" text-anchor="middle">0</text>
<text transform="translate(598.50,1532.80) scale(1,1.050)" font-size="62.1" text-anchor="middle">500</text>
<text transform="translate(911.00,1532.80) scale(1,1.050)" font-size="62.1" text-anchor="middle">1000</text>
<text transform="translate(1223.50,1532.80) scale(1,1.050)" font-size="62.1" text-anchor="middle">1500</text>
<text transform="translate(1536.00,1532.80) scale(1,1.050)" font-size="62.1" text-anchor="middle">2000</text>
<text transform="translate(1848.50,1532.80) scale(1,1.050)" font-size="62.1" text-anchor="middle">2500</text>
<text transform="translate(2161.00,1532.80) scale(1,1.050)" font-size="62.1" text-anchor="middle">3000</text>
<text transform="translate(1061.35,1659.20) scale(1,1.046)" font-size="73.1" font-weight="bold">Z' / &#937; cm</text>
<text transform="translate(1360.50,1628.20) scale(1,1.046)" font-size="47.6" font-weight="bold">2</text>
<text transform="translate(104.00,940.12) rotate(-90)" font-size="74.3" font-weight="bold">Z'' / &#937; cm</text>
<text transform="translate(74.00,619.00) rotate(-90)" font-size="49" font-weight="bold">2</text>
<text transform="translate(1463.80,225.00) scale(1,1.028)" font-size="115.4">(a)</text>
<rect x="1635.2" y="133.5" width="19" height="18" fill="#000000"/>
<text transform="translate(1737.80,164.80) scale(1,1.030)" font-size="67">AR M2</text>
<rect x="1635.2" y="221.7" width="19" height="18" fill="#ff0000"/>
<text transform="translate(1737.80,253.10) scale(1,1.030)" font-size="67">QT M2</text>
<rect x="1637.3" y="315.0" width="19" height="18" fill="#00ff00"/>
<text transform="translate(1737.80,347.10) scale(1,1.030)" font-size="67">FSPed M2</text>
<rect x="1637.5" y="402.6" width="19" height="18" fill="#0000ff"/>
<text transform="translate(1737.80,434.80) scale(1,1.030)" font-size="67">FSP75%</text>
<rect x="1638.3" y="491.1" width="19" height="18" fill="#ff00ff"/>
<text transform="translate(1737.80,522.40) scale(1,1.030)" font-size="67">FSP50%</text>
<rect x="1639.1" y="574.7" width="19" height="18" fill="#00ffff"/>
<text transform="translate(1737.80,605.40) scale(1,1.030)" font-size="67">FSP25%</text>
<line x1="1639.7" y1="661.3" x2="1793.6" y2="661.3" stroke="#000" stroke-width="4.6" stroke-linecap="round"/>
<text transform="translate(1807.50,683.60) scale(1,1.030)" font-size="67">Fitting</text>
</g>
<g stroke="#000" fill="none" stroke-width="14" stroke-linejoin="round" stroke-linecap="round">
<polyline points="499,319.8 596,318.5 623.6,351 674.9,290.5 727.9,351 780.2,290.5 806.5,319.2 938,319.2"/>
<line x1="990" y1="319.2" x2="1124" y2="319.2"/>
<polyline points="1099.5,287 1124,319 1099.5,351" />
<polyline points="1151.5,287 1176,319 1151.5,351" />
<line x1="1176" y1="319" x2="1438.6" y2="318.5" stroke-linecap="butt"/>
<polyline points="1333,319 1333,512.3 1253,512.3 1227.4,489 1176.1,543.5 1124.8,489 1073.5,543.5 1040,511 966.9,511 966.9,330"/>
</g>
<ellipse cx="965.4" cy="316.5" rx="30.3" ry="35.2" fill="#000"/>
<g fill="#000">
<text transform="translate(661.20,260.00) scale(1,1.257)" font-size="58">R</text>
<text transform="translate(700.50,276.00) scale(1,1.257)" font-size="41">s</text>
<text transform="translate(997.48,249.20) scale(1,1.257)" font-size="58">CPE (Q<tspan font-size="41" dy="12">0</tspan><tspan dy="-12">, &#945;)</tspan></text>
<text transform="translate(1124.10,460.00) scale(1,1.257)" font-size="58">R</text>
<text transform="translate(1162.80,475.50) scale(1,1.257)" font-size="41">ct</text>
</g>
<g stroke="#000" fill="none" stroke-width="6">
<line x1="314.3" y1="1819" x2="314.3" y2="3345"/>
<line x1="2169.8" y1="1819" x2="2169.8" y2="3345"/>
<line x1="285" y1="1821.5" x2="2172.8" y2="1821.5"/>
<line x1="300" y1="3315.2" x2="2172.8" y2="3315.2"/>
<line x1="300" y1="3314.4" x2="314" y2="3314.4"/>
<line x1="2156" y1="3314.4" x2="2170" y2="3314.4"/>
<line x1="285" y1="3214.9" x2="314" y2="3214.9"/>
<line x1="2141" y1="3214.9" x2="2170" y2="3214.9"/>
<line x1="300" y1="3115.4" x2="314" y2="3115.4"/>
<line x1="2156" y1="3115.4" x2="2170" y2="3115.4"/>
<line x1="285" y1="3015.9" x2="314" y2="3015.9"/>
<line x1="2141" y1="3015.9" x2="2170" y2="3015.9"/>
<line x1="300" y1="2916.4" x2="314" y2="2916.4"/>
<line x1="2156" y1="2916.4" x2="2170" y2="2916.4"/>
<line x1="285" y1="2816.9" x2="314" y2="2816.9"/>
<line x1="2141" y1="2816.9" x2="2170" y2="2816.9"/>
<line x1="300" y1="2717.4" x2="314" y2="2717.4"/>
<line x1="2156" y1="2717.4" x2="2170" y2="2717.4"/>
<line x1="285" y1="2617.9" x2="314" y2="2617.9"/>
<line x1="2141" y1="2617.9" x2="2170" y2="2617.9"/>
<line x1="300" y1="2518.5" x2="314" y2="2518.5"/>
<line x1="2156" y1="2518.5" x2="2170" y2="2518.5"/>
<line x1="285" y1="2419.0" x2="314" y2="2419.0"/>
<line x1="2141" y1="2419.0" x2="2170" y2="2419.0"/>
<line x1="300" y1="2319.5" x2="314" y2="2319.5"/>
<line x1="2156" y1="2319.5" x2="2170" y2="2319.5"/>
<line x1="285" y1="2220.0" x2="314" y2="2220.0"/>
<line x1="2141" y1="2220.0" x2="2170" y2="2220.0"/>
<line x1="300" y1="2120.5" x2="314" y2="2120.5"/>
<line x1="2156" y1="2120.5" x2="2170" y2="2120.5"/>
<line x1="285" y1="2021.0" x2="314" y2="2021.0"/>
<line x1="2141" y1="2021.0" x2="2170" y2="2021.0"/>
<line x1="300" y1="1921.5" x2="314" y2="1921.5"/>
<line x1="2156" y1="1921.5" x2="2170" y2="1921.5"/>
<line x1="285" y1="1822.0" x2="314" y2="1822.0"/>
<line x1="2141" y1="1822.0" x2="2170" y2="1822.0"/>
<line x1="314.1" y1="3315" x2="314.1" y2="3345"/>
<line x1="314.1" y1="1821" x2="314.1" y2="1851"/>
<line x1="393.9" y1="3315" x2="393.9" y2="3329"/>
<line x1="393.9" y1="1821" x2="393.9" y2="1835"/>
<line x1="440.6" y1="3315" x2="440.6" y2="3329"/>
<line x1="440.6" y1="1821" x2="440.6" y2="1835"/>
<line x1="473.7" y1="3315" x2="473.7" y2="3329"/>
<line x1="473.7" y1="1821" x2="473.7" y2="1835"/>
<line x1="499.4" y1="3315" x2="499.4" y2="3329"/>
<line x1="499.4" y1="1821" x2="499.4" y2="1835"/>
<line x1="520.4" y1="3315" x2="520.4" y2="3329"/>
<line x1="520.4" y1="1821" x2="520.4" y2="1835"/>
<line x1="538.1" y1="3315" x2="538.1" y2="3329"/>
<line x1="538.1" y1="1821" x2="538.1" y2="1835"/>
<line x1="553.5" y1="3315" x2="553.5" y2="3329"/>
<line x1="553.5" y1="1821" x2="553.5" y2="1835"/>
<line x1="567.1" y1="3315" x2="567.1" y2="3329"/>
<line x1="567.1" y1="1821" x2="567.1" y2="1835"/>
<line x1="579.2" y1="3315" x2="579.2" y2="3345"/>
<line x1="579.2" y1="1821" x2="579.2" y2="1851"/>
<line x1="659.0" y1="3315" x2="659.0" y2="3329"/>
<line x1="659.0" y1="1821" x2="659.0" y2="1835"/>
<line x1="705.7" y1="3315" x2="705.7" y2="3329"/>
<line x1="705.7" y1="1821" x2="705.7" y2="1835"/>
<line x1="738.8" y1="3315" x2="738.8" y2="3329"/>
<line x1="738.8" y1="1821" x2="738.8" y2="1835"/>
<line x1="764.5" y1="3315" x2="764.5" y2="3329"/>
<line x1="764.5" y1="1821" x2="764.5" y2="1835"/>
<line x1="785.5" y1="3315" x2="785.5" y2="3329"/>
<line x1="785.5" y1="1821" x2="785.5" y2="1835"/>
<line x1="803.2" y1="3315" x2="803.2" y2="3329"/>
<line x1="803.2" y1="1821" x2="803.2" y2="1835"/>
<line x1="818.6" y1="3315" x2="818.6" y2="3329"/>
<line x1="818.6" y1="1821" x2="818.6" y2="1835"/>
<line x1="832.2" y1="3315" x2="832.2" y2="3329"/>
<line x1="832.2" y1="1821" x2="832.2" y2="1835"/>
<line x1="844.3" y1="3315" x2="844.3" y2="3345"/>
<line x1="844.3" y1="1821" x2="844.3" y2="1851"/>
<line x1="924.1" y1="3315" x2="924.1" y2="3329"/>
<line x1="924.1" y1="1821" x2="924.1" y2="1835"/>
<line x1="970.8" y1="3315" x2="970.8" y2="3329"/>
<line x1="970.8" y1="1821" x2="970.8" y2="1835"/>
<line x1="1003.9" y1="3315" x2="1003.9" y2="3329"/>
<line x1="1003.9" y1="1821" x2="1003.9" y2="1835"/>
<line x1="1029.6" y1="3315" x2="1029.6" y2="3329"/>
<line x1="1029.6" y1="1821" x2="1029.6" y2="1835"/>
<line x1="1050.6" y1="3315" x2="1050.6" y2="3329"/>
<line x1="1050.6" y1="1821" x2="1050.6" y2="1835"/>
<line x1="1068.3" y1="3315" x2="1068.3" y2="3329"/>
<line x1="1068.3" y1="1821" x2="1068.3" y2="1835"/>
<line x1="1083.7" y1="3315" x2="1083.7" y2="3329"/>
<line x1="1083.7" y1="1821" x2="1083.7" y2="1835"/>
<line x1="1097.3" y1="3315" x2="1097.3" y2="3329"/>
<line x1="1097.3" y1="1821" x2="1097.3" y2="1835"/>
<line x1="1109.4" y1="3315" x2="1109.4" y2="3345"/>
<line x1="1109.4" y1="1821" x2="1109.4" y2="1851"/>
<line x1="1189.2" y1="3315" x2="1189.2" y2="3329"/>
<line x1="1189.2" y1="1821" x2="1189.2" y2="1835"/>
<line x1="1235.9" y1="3315" x2="1235.9" y2="3329"/>
<line x1="1235.9" y1="1821" x2="1235.9" y2="1835"/>
<line x1="1269.0" y1="3315" x2="1269.0" y2="3329"/>
<line x1="1269.0" y1="1821" x2="1269.0" y2="1835"/>
<line x1="1294.7" y1="3315" x2="1294.7" y2="3329"/>
<line x1="1294.7" y1="1821" x2="1294.7" y2="1835"/>
<line x1="1315.7" y1="3315" x2="1315.7" y2="3329"/>
<line x1="1315.7" y1="1821" x2="1315.7" y2="1835"/>
<line x1="1333.4" y1="3315" x2="1333.4" y2="3329"/>
<line x1="1333.4" y1="1821" x2="1333.4" y2="1835"/>
<line x1="1348.8" y1="3315" x2="1348.8" y2="3329"/>
<line x1="1348.8" y1="1821" x2="1348.8" y2="1835"/>
<line x1="1362.4" y1="3315" x2="1362.4" y2="3329"/>
<line x1="1362.4" y1="1821" x2="1362.4" y2="1835"/>
<line x1="1374.5" y1="3315" x2="1374.5" y2="3345"/>
<line x1="1374.5" y1="1821" x2="1374.5" y2="1851"/>
<line x1="1454.3" y1="3315" x2="1454.3" y2="3329"/>
<line x1="1454.3" y1="1821" x2="1454.3" y2="1835"/>
<line x1="1501.0" y1="3315" x2="1501.0" y2="3329"/>
<line x1="1501.0" y1="1821" x2="1501.0" y2="1835"/>
<line x1="1534.1" y1="3315" x2="1534.1" y2="3329"/>
<line x1="1534.1" y1="1821" x2="1534.1" y2="1835"/>
<line x1="1559.8" y1="3315" x2="1559.8" y2="3329"/>
<line x1="1559.8" y1="1821" x2="1559.8" y2="1835"/>
<line x1="1580.8" y1="3315" x2="1580.8" y2="3329"/>
<line x1="1580.8" y1="1821" x2="1580.8" y2="1835"/>
<line x1="1598.5" y1="3315" x2="1598.5" y2="3329"/>
<line x1="1598.5" y1="1821" x2="1598.5" y2="1835"/>
<line x1="1613.9" y1="3315" x2="1613.9" y2="3329"/>
<line x1="1613.9" y1="1821" x2="1613.9" y2="1835"/>
<line x1="1627.5" y1="3315" x2="1627.5" y2="3329"/>
<line x1="1627.5" y1="1821" x2="1627.5" y2="1835"/>
<line x1="1639.6" y1="3315" x2="1639.6" y2="3345"/>
<line x1="1639.6" y1="1821" x2="1639.6" y2="1851"/>
<line x1="1719.4" y1="3315" x2="1719.4" y2="3329"/>
<line x1="1719.4" y1="1821" x2="1719.4" y2="1835"/>
<line x1="1766.1" y1="3315" x2="1766.1" y2="3329"/>
<line x1="1766.1" y1="1821" x2="1766.1" y2="1835"/>
<line x1="1799.2" y1="3315" x2="1799.2" y2="3329"/>
<line x1="1799.2" y1="1821" x2="1799.2" y2="1835"/>
<line x1="1824.9" y1="3315" x2="1824.9" y2="3329"/>
<line x1="1824.9" y1="1821" x2="1824.9" y2="1835"/>
<line x1="1845.9" y1="3315" x2="1845.9" y2="3329"/>
<line x1="1845.9" y1="1821" x2="1845.9" y2="1835"/>
<line x1="1863.6" y1="3315" x2="1863.6" y2="3329"/>
<line x1="1863.6" y1="1821" x2="1863.6" y2="1835"/>
<line x1="1879.0" y1="3315" x2="1879.0" y2="3329"/>
<line x1="1879.0" y1="1821" x2="1879.0" y2="1835"/>
<line x1="1892.6" y1="3315" x2="1892.6" y2="3329"/>
<line x1="1892.6" y1="1821" x2="1892.6" y2="1835"/>
<line x1="1904.7" y1="3315" x2="1904.7" y2="3345"/>
<line x1="1904.7" y1="1821" x2="1904.7" y2="1851"/>
<line x1="1984.5" y1="3315" x2="1984.5" y2="3329"/>
<line x1="1984.5" y1="1821" x2="1984.5" y2="1835"/>
<line x1="2031.2" y1="3315" x2="2031.2" y2="3329"/>
<line x1="2031.2" y1="1821" x2="2031.2" y2="1835"/>
<line x1="2064.3" y1="3315" x2="2064.3" y2="3329"/>
<line x1="2064.3" y1="1821" x2="2064.3" y2="1835"/>
<line x1="2090.0" y1="3315" x2="2090.0" y2="3329"/>
<line x1="2090.0" y1="1821" x2="2090.0" y2="1835"/>
<line x1="2111.0" y1="3315" x2="2111.0" y2="3329"/>
<line x1="2111.0" y1="1821" x2="2111.0" y2="1835"/>
<line x1="2128.7" y1="3315" x2="2128.7" y2="3329"/>
<line x1="2128.7" y1="1821" x2="2128.7" y2="1835"/>
<line x1="2144.1" y1="3315" x2="2144.1" y2="3329"/>
<line x1="2144.1" y1="1821" x2="2144.1" y2="1835"/>
<line x1="2157.7" y1="3315" x2="2157.7" y2="3329"/>
<line x1="2157.7" y1="1821" x2="2157.7" y2="1835"/>
</g>
<g fill="#000">
<text transform="translate(264.60,3231.00) scale(1,1.026)" font-size="64.1" text-anchor="end">0</text>
<text transform="translate(264.60,3032.01) scale(1,1.026)" font-size="64.1" text-anchor="end">500</text>
<text transform="translate(264.60,2833.03) scale(1,1.026)" font-size="64.1" text-anchor="end">1000</text>
<text transform="translate(264.60,2634.05) scale(1,1.026)" font-size="64.1" text-anchor="end">1500</text>
<text transform="translate(264.60,2435.06) scale(1,1.026)" font-size="64.1" text-anchor="end">2000</text>
<text transform="translate(264.60,2236.08) scale(1,1.026)" font-size="64.1" text-anchor="end">2500</text>
<text transform="translate(264.60,2037.09) scale(1,1.026)" font-size="64.1" text-anchor="end">3000</text>
<text transform="translate(264.60,1838.11) scale(1,1.026)" font-size="64.1" text-anchor="end">3500</text>
<text transform="translate(316.10,3422.30)" font-size="62" text-anchor="middle">10<tspan dy="-27" font-size="44">-2</tspan></text>
<text transform="translate(581.20,3422.30)" font-size="62" text-anchor="middle">10<tspan dy="-27" font-size="44">-1</tspan></text>
<text transform="translate(846.30,3422.30)" font-size="62" text-anchor="middle">10<tspan dy="-27" font-size="44">0</tspan></text>
<text transform="translate(1111.40,3422.30)" font-size="62" text-anchor="middle">10<tspan dy="-27" font-size="44">1</tspan></text>
<text transform="translate(1376.50,3422.30)" font-size="62" text-anchor="middle">10<tspan dy="-27" font-size="44">2</tspan></text>
<text transform="translate(1641.60,3422.30)" font-size="62" text-anchor="middle">10<tspan dy="-27" font-size="44">3</tspan></text>
<text transform="translate(1906.70,3422.30)" font-size="62" text-anchor="middle">10<tspan dy="-27" font-size="44">4</tspan></text>
<text transform="translate(2171.80,3422.30)" font-size="62" text-anchor="middle">10<tspan dy="-27" font-size="44">5</tspan></text>
<text transform="translate(1000.00,3537.80) scale(1,1.025)" font-size="78.5">Frequency / Hz</text>
<text transform="translate(105.00,2737.02) rotate(-90)" font-size="76.5">|Z| / &#937; cm2</text>
<text transform="translate(1503.20,2010.80)" font-size="116.4">(b)</text>
<rect x="1688.8" y="1925.0" width="20" height="19" fill="#555555"/>
<text transform="translate(1796.70,1958.00) scale(1,1.020)" font-size="70.4">AR M2</text>
<circle cx="1698.8" cy="2021.7" r="10.5" fill="#e83e3e"/>
<text transform="translate(1796.70,2045.00) scale(1,1.020)" font-size="70.4">QT M2</text>
<rect x="1688.8" y="2098.7" width="20" height="19" fill="#00ff00"/>
<text transform="translate(1796.70,2132.10) scale(1,1.020)" font-size="70.4">FSPed M2</text>
<rect x="1688.8" y="2185.5" width="20" height="19" fill="#0000ff"/>
<text transform="translate(1796.70,2218.30) scale(1,1.020)" font-size="70.4">FSP75%</text>
<rect x="1688.8" y="2272.3" width="20" height="19" fill="#ff00ff"/>
<text transform="translate(1796.70,2305.10) scale(1,1.020)" font-size="70.4">FSP50%</text>
<rect x="1688.8" y="2359.1" width="20" height="19" fill="#00ffff"/>
<text transform="translate(1796.70,2391.80) scale(1,1.020)" font-size="70.4">FSP25%</text>
<line x1="1688.1" y1="2456.6" x2="1849.2" y2="2456.6" stroke="#000" stroke-width="5.2" stroke-linecap="round"/>
<text transform="translate(1865.40,2480.70) scale(1,1.020)" font-size="70.4">Fitting</text>
</g>
</svg></body></html>
